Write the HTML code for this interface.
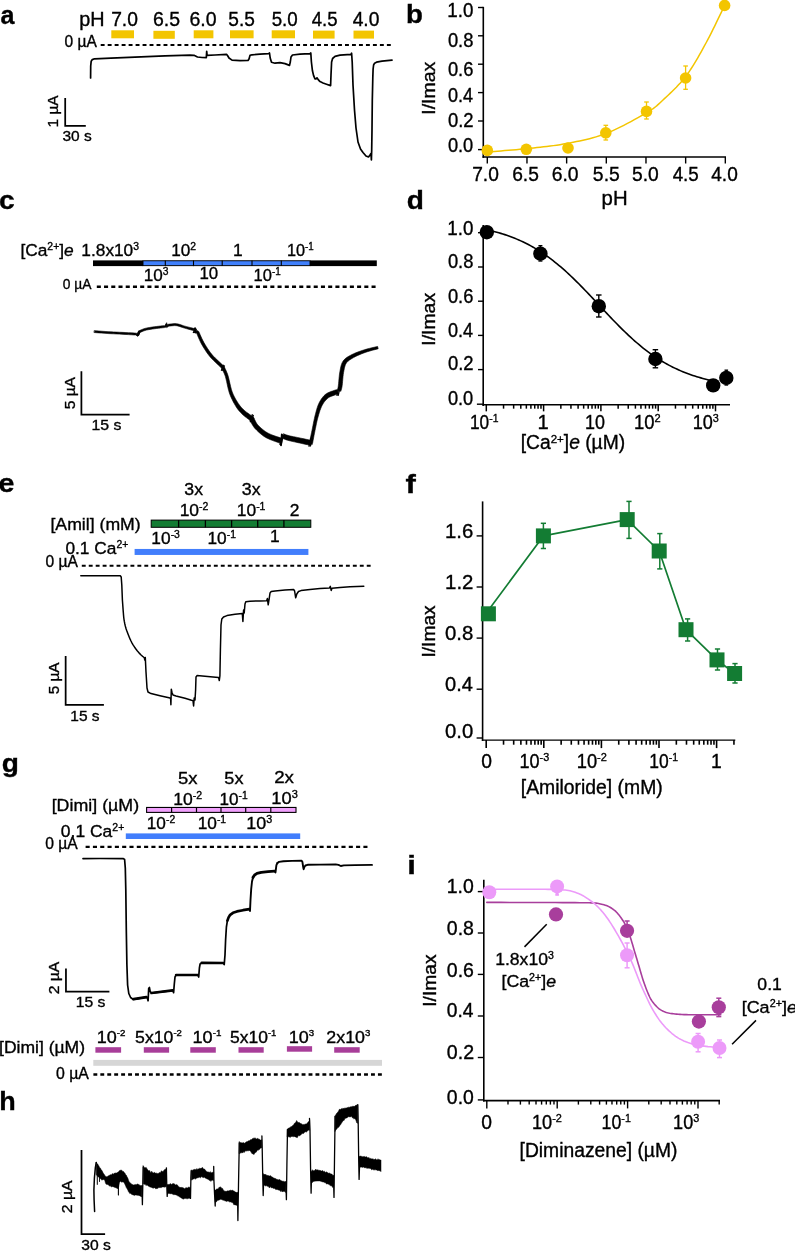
<!DOCTYPE html>
<html lang="en"><head><meta charset="utf-8"><title>Figure</title>
<style>html,body{margin:0;padding:0;background:#fff}svg{display:block;will-change:transform}text{white-space:pre;stroke:#000;stroke-width:0.35px}</style></head>
<body>
<svg width="795" height="1251" viewBox="0 0 795 1251" font-family='"Liberation Sans", sans-serif'>
<rect width="795" height="1251" fill="#fff"/>
<text transform="translate(0.59 23.6) scale(0.947 1)" font-size="26.5" font-weight="bold">a</text>
<text transform="translate(79.34 26.4) scale(1.027 1)" font-size="19.3">pH</text>
<text transform="translate(111.13 26.4) scale(0.999 1)" font-size="19.3">7.0</text>
<text transform="translate(153.02 26.4) scale(1.011 1)" font-size="19.3">6.5</text>
<text transform="translate(189.52 26.4) scale(1.011 1)" font-size="19.3">6.0</text>
<text transform="translate(228.26 26.4) scale(0.99 1)" font-size="19.3">5.5</text>
<text transform="translate(271.67 26.4) scale(0.974 1)" font-size="19.3">5.0</text>
<text transform="translate(311.64 26.4) scale(0.964 1)" font-size="19.3">4.5</text>
<text transform="translate(352.63 26.4) scale(0.999 1)" font-size="19.3">4.0</text>
<rect x="111.3" y="30.3" width="22.7" height="8" fill="#F3C500"/>
<rect x="153.4" y="30.8" width="21.4" height="8" fill="#F3C500"/>
<rect x="193.7" y="30.3" width="19.7" height="8" fill="#F3C500"/>
<rect x="230" y="30.3" width="23.6" height="8" fill="#F3C500"/>
<rect x="271.7" y="30.3" width="23.3" height="8" fill="#F3C500"/>
<rect x="313" y="30.6" width="21.6" height="8" fill="#F3C500"/>
<rect x="353.5" y="30.6" width="20.5" height="8" fill="#F3C500"/>
<text transform="translate(64.5 47.4) scale(0.997 1)" font-size="15.6">0 µA</text>
<line x1="100.7" y1="45" x2="391" y2="45" stroke="#000" stroke-width="1.85" stroke-dasharray="3.91 3.07"/>
<path d="M90.6 78 L90.7 66 L91.2 61.2 L92.3 59.6 L94.5 58.8 L111 58.2 L135 57.2 L165 55.9 L190 55.2 L194 55.3 L197.5 57 L202 57.5 L206.3 57.7 L206.7 51.3 L207.1 55.4 L215 55 L226.5 54.3 L227.5 55.5 L229 58 L232 60.1 L240 60.6 L248 60.5 L249 59 L250 55.4 L252 54.8 L260 54.2 L268.8 53.6 L269.5 53 L270.2 58 L271.5 62.2 L275 63.2 L280 62.6 L285 63.6 L289.5 65.4 L290.3 62 L291 57 L292.5 55 L300 54.2 L310 53.6 L310.8 53 L311.4 62 L312.4 70.5 L313.6 75.6 L315 78.8 L316 79 L317 77.8 L318.2 79.6 L320 81.6 L323 83 L326.5 84.2 L330.6 85.6 L331 75 L331.6 62 L332.6 58.5 L335 56.4 L340 55.2 L351 54.4 L351.6 53.2 L352.2 62 L353 85 L354.5 110 L356 128 L358 142 L360.5 149 L363 152.5 L366 156 L368.5 157 L370 155 L371 153.5 L371.4 160 L371.7 150 L372 130 L372.3 100 L372.8 78 L373.1 69 L373.6 65 L374.6 63.2 L376.5 62.2 L382 61.2 L392 60.2" fill="none" stroke="#000" stroke-width="1.7" stroke-linejoin="round" stroke-linecap="round"/>
<path d="M65.2 98 L65.2 125.9 L85.8 125.9" fill="none" stroke="#000" stroke-width="1.75" stroke-linejoin="miter" stroke-linecap="butt"/>
<text transform="translate(62.38 140.9) scale(1.034 1)" font-size="15">30 s</text>
<text transform="translate(58.2 127.55) rotate(-90) scale(1.022 1)" font-size="15.2">1 µA</text>
<text transform="translate(406.1 22.7) scale(1.044 1)" font-size="26.5" font-weight="bold">b</text>
<line x1="483.3" y1="6.8" x2="483.3" y2="157.8" stroke="#000" stroke-width="1.6"/>
<line x1="482.5" y1="157" x2="726" y2="157" stroke="#000" stroke-width="1.6"/>
<line x1="478" y1="7.5" x2="483" y2="7.5" stroke="#000" stroke-width="1.4"/>
<line x1="478" y1="35.8" x2="483" y2="35.8" stroke="#000" stroke-width="1.4"/>
<line x1="478" y1="64.2" x2="483" y2="64.2" stroke="#000" stroke-width="1.4"/>
<line x1="478" y1="92.6" x2="483" y2="92.6" stroke="#000" stroke-width="1.4"/>
<line x1="478" y1="121" x2="483" y2="121" stroke="#000" stroke-width="1.4"/>
<line x1="478" y1="149.6" x2="483" y2="149.6" stroke="#000" stroke-width="1.4"/>
<text transform="translate(447.27 17.1) scale(0.971 1)" font-size="19.3">1.0</text>
<text transform="translate(447.89 46.5) scale(0.951 1)" font-size="19.3">0.8</text>
<text transform="translate(447.89 75.5) scale(0.951 1)" font-size="19.3">0.6</text>
<text transform="translate(447.9 102) scale(0.937 1)" font-size="19.3">0.4</text>
<text transform="translate(447.88 126.6) scale(0.956 1)" font-size="19.3">0.2</text>
<text transform="translate(447.89 151.6) scale(0.947 1)" font-size="19.3">0.0</text>
<line x1="487.3" y1="157" x2="487.3" y2="163.5" stroke="#000" stroke-width="1.4"/>
<line x1="526.97" y1="157" x2="526.97" y2="163.5" stroke="#000" stroke-width="1.4"/>
<line x1="566.64" y1="157" x2="566.64" y2="163.5" stroke="#000" stroke-width="1.4"/>
<line x1="606.31" y1="157" x2="606.31" y2="163.5" stroke="#000" stroke-width="1.4"/>
<line x1="645.98" y1="157" x2="645.98" y2="163.5" stroke="#000" stroke-width="1.4"/>
<line x1="685.65" y1="157" x2="685.65" y2="163.5" stroke="#000" stroke-width="1.4"/>
<line x1="725.32" y1="157" x2="725.32" y2="163.5" stroke="#000" stroke-width="1.4"/>
<text transform="translate(472.13 181.3) scale(0.995 1)" font-size="19.3">7.0</text>
<text transform="translate(512.13 181.3) scale(0.995 1)" font-size="19.3">6.5</text>
<text transform="translate(551.72 181.3) scale(1.003 1)" font-size="19.3">6.0</text>
<text transform="translate(592.85 181.3) scale(1.006 1)" font-size="19.3">5.5</text>
<text transform="translate(632.05 181.3) scale(0.998 1)" font-size="19.3">5.0</text>
<text transform="translate(672.63 181.3) scale(0.976 1)" font-size="19.3">4.5</text>
<text transform="translate(711.23 181.3) scale(0.991 1)" font-size="19.3">4.0</text>
<text transform="translate(601.61 204.5) scale(1.055 1)" font-size="19.3">pH</text>
<text transform="translate(435 114.76) rotate(-90) scale(1.084 1)" font-size="18">I/Imax</text>
<path d="M487.3 152 L489.22 151.84 L491.62 151.65 L494.44 151.43 L497.6 151.18 L501.03 150.91 L504.68 150.62 L508.46 150.31 L512.3 149.99 L516.15 149.65 L519.93 149.3 L523.57 148.95 L527 148.6 L530.3 148.25 L533.61 147.91 L536.91 147.56 L540.21 147.21 L543.52 146.84 L546.82 146.46 L550.12 146.06 L553.42 145.63 L556.72 145.16 L560.01 144.65 L563.31 144.1 L566.6 143.5 L569.89 142.87 L573.17 142.24 L576.45 141.59 L579.73 140.92 L583 140.21 L586.28 139.46 L589.55 138.66 L592.83 137.79 L596.11 136.85 L599.4 135.83 L602.7 134.72 L606 133.5 L609.39 132.14 L612.9 130.6 L616.5 128.94 L620.14 127.17 L623.79 125.32 L627.4 123.44 L630.93 121.54 L634.35 119.67 L637.6 117.84 L640.66 116.1 L643.47 114.48 L646 113 L648.2 111.69 L650.09 110.53 L651.73 109.48 L653.15 108.52 L654.41 107.61 L655.56 106.72 L656.66 105.82 L657.74 104.87 L658.87 103.85 L660.09 102.72 L661.45 101.44 L663 100 L664.72 98.41 L666.52 96.74 L668.4 94.98 L670.33 93.15 L672.31 91.24 L674.31 89.25 L676.33 87.2 L678.33 85.07 L680.32 82.89 L682.27 80.65 L684.17 78.35 L686 76 L687.78 73.58 L689.52 71.07 L691.24 68.49 L692.94 65.83 L694.62 63.12 L696.27 60.34 L697.92 57.52 L699.55 54.67 L701.17 51.78 L702.78 48.86 L704.39 45.94 L706 43 L707.66 39.91 L709.4 36.58 L711.18 33.06 L712.99 29.44 L714.79 25.8 L716.55 22.19 L718.24 18.69 L719.83 15.39 L721.29 12.34 L722.59 9.63 L723.71 7.33 L724.6 5.5" fill="none" stroke="#F3C500" stroke-width="1.5" stroke-linejoin="round" stroke-linecap="round"/>
<line x1="605.8" y1="125.3" x2="605.8" y2="140" stroke="#F3C500" stroke-width="1.3"/>
<line x1="603.5" y1="125.3" x2="608.1" y2="125.3" stroke="#F3C500" stroke-width="1.3"/>
<line x1="603.5" y1="140" x2="608.1" y2="140" stroke="#F3C500" stroke-width="1.3"/>
<line x1="646.5" y1="102" x2="646.5" y2="119" stroke="#F3C500" stroke-width="1.3"/>
<line x1="644.2" y1="102" x2="648.8" y2="102" stroke="#F3C500" stroke-width="1.3"/>
<line x1="644.2" y1="119" x2="648.8" y2="119" stroke="#F3C500" stroke-width="1.3"/>
<line x1="685.6" y1="66" x2="685.6" y2="89.3" stroke="#F3C500" stroke-width="1.3"/>
<line x1="683.3" y1="66" x2="687.9" y2="66" stroke="#F3C500" stroke-width="1.3"/>
<line x1="683.3" y1="89.3" x2="687.9" y2="89.3" stroke="#F3C500" stroke-width="1.3"/>
<circle cx="487.3" cy="150.4" r="5.8" fill="#F3C500"/>
<circle cx="526.3" cy="149.3" r="5.8" fill="#F3C500"/>
<circle cx="568" cy="148" r="5.8" fill="#F3C500"/>
<circle cx="605.8" cy="132.8" r="5.8" fill="#F3C500"/>
<circle cx="646.5" cy="111.4" r="5.8" fill="#F3C500"/>
<circle cx="685.6" cy="78" r="5.8" fill="#F3C500"/>
<circle cx="724.6" cy="5.5" r="5.8" fill="#F3C500"/>
<text transform="translate(-1.06 208.6) scale(1.062 1)" font-size="26.5" font-weight="bold">c</text>
<text transform="translate(20.38 255.6) scale(0.997 1)" font-size="17.4">[Ca<tspan dy="-6" font-size="10.44">2+</tspan><tspan dy="6">]</tspan><tspan font-style="italic">e</tspan></text>
<text transform="translate(81.36 255.6) scale(0.994 1)" font-size="17.4">1.8x10<tspan dy="-6" font-size="10.44">3</tspan></text>
<text transform="translate(171.16 255.6) scale(0.989 1)" font-size="17.4">10<tspan dy="-6" font-size="10.44">2</tspan></text>
<text transform="translate(232.95 255.6)" font-size="17.4">1</text>
<text transform="translate(287.03 255.6) scale(0.935 1)" font-size="17.4">10<tspan dy="-6" font-size="10.44">-1</tspan></text>
<text transform="translate(143.77 280.7) scale(0.984 1)" font-size="17.4">10<tspan dy="-6" font-size="10.44">3</tspan></text>
<text transform="translate(199.39 279.4) scale(0.967 1)" font-size="17.4">10</text>
<text transform="translate(253.61 280.7) scale(0.95 1)" font-size="17.4">10<tspan dy="-6" font-size="10.44">-1</tspan></text>
<rect x="93" y="260.4" width="50" height="5.7" fill="#000"/>
<rect x="310" y="260.4" width="66.8" height="5.7" fill="#000"/>
<rect x="143" y="260.75" width="167" height="4.9" fill="#4080FC" stroke="#000" stroke-width="0.95"/>
<line x1="165.3" y1="260.4" x2="165.3" y2="266.1" stroke="#000" stroke-width="1.1"/>
<line x1="193.5" y1="260.4" x2="193.5" y2="266.1" stroke="#000" stroke-width="1.1"/>
<line x1="222.2" y1="260.4" x2="222.2" y2="266.1" stroke="#000" stroke-width="1.1"/>
<line x1="252" y1="260.4" x2="252" y2="266.1" stroke="#000" stroke-width="1.1"/>
<line x1="281.3" y1="260.4" x2="281.3" y2="266.1" stroke="#000" stroke-width="1.1"/>
<text transform="translate(62.83 288.7) scale(0.947 1)" font-size="14.6">0 µA</text>
<line x1="96.8" y1="286.65" x2="376.2" y2="286.65" stroke="#000" stroke-width="2.5" stroke-dasharray="4.05 3.18"/>
<path d="M94.33 332.55 L96.17 332.69 L98.77 332.89 L101.81 333.12 L104.97 333.35 L107.94 333.55 L110.72 333.71 L113.51 333.84 L116.32 333.97 L119.13 334.1 L121.95 334.25 L125.02 334.42 L128.33 334.62 L131.54 334.81 L134.29 334.98 L135.81 334.97 L137.83 336.38 L140.17 332.24 L141.35 331.94 L141.38 331.93 L142.03 331.66 L142.89 331.29 L143.93 330.87 L145.14 330.45 L146.53 330.07 L148.21 329.73 L150.2 329.4 L152.35 329.07 L154.5 328.77 L156.53 328.49 L158.55 328.24 L160.66 328 L162.67 327.79 L164.38 327.62 L166.34 327.05 L166.17 324.17 L166.72 327.64 L169.11 325.45 L168.46 326.19 L169.79 326.08 L171.29 325.89 L173.02 325.71 L174.79 325.62 L176.39 325.69 L177.86 325.97 L179.38 326.4 L180.96 326.94 L182.61 327.52 L184.32 328.06 L186.22 328.6 L188.3 329.18 L190.33 329.74 L192.09 330.22 L194.04 330.51 L193.78 328.78 L195 333.2 L197.29 332.46 L196.48 332.76 L196.92 333.81 L197.59 335.46 L198.42 337.43 L199.36 339.59 L200.39 341.79 L201.47 343.88 L202.62 345.9 L203.86 347.98 L205.19 350.1 L206.59 352.2 L208.06 354.26 L209.58 356.23 L211.28 358.17 L213.17 360.12 L215.1 361.99 L216.93 363.7 L218.53 365.19 L219.75 366.37 L220.58 367.21 L221.11 367.76 L221.43 368.09 L221.6 368.28 L221.73 368.44 L221.69 368.32 L222.25 369.46 L222.6 370.18 L223.08 371.1 L223.64 372.2 L224.24 373.5 L224.86 375.03 L225.46 376.8 L226.03 378.97 L226.62 381.59 L227.23 384.48 L227.88 387.45 L228.59 390.35 L229.38 392.99 L230.28 395.39 L231.24 397.68 L232.27 399.85 L233.31 401.89 L234.36 403.8 L235.38 405.56 L236.38 407.18 L237.39 408.65 L238.4 409.98 L239.42 411.21 L240.46 412.37 L241.55 413.52 L242.77 414.69 L244.1 415.83 L245.43 416.89 L246.68 417.85 L247.76 418.67 L248.61 419.33 L249.24 419.83 L249.72 420.2 L250.07 420.46 L250.32 420.63 L250.49 420.75 L249.94 420.03 L250.6 421.32 L250.97 422.03 L251.4 422.91 L251.96 424.03 L252.67 425.29 L253.52 426.62 L254.53 427.94 L255.71 429.23 L257.04 430.57 L258.48 431.93 L259.97 433.25 L261.42 434.47 L262.8 435.55 L264.09 436.45 L265.34 437.22 L266.54 437.88 L267.71 438.45 L268.85 438.97 L270.03 439.5 L271.33 440.06 L272.74 440.6 L274.12 441.1 L275.42 441.55 L276.55 441.94 L277.43 442.25 L278.07 442.49 L278.54 442.67 L278.85 442.79 L279.08 442.87 L279.27 442.95 L279.45 443.02 L281.35 438.18 L281.2 438.12 L281.02 438.04 L280.76 437.94 L280.39 437.79 L279.88 437.6 L279.17 437.35 L278.21 437.03 L277.04 436.66 L275.76 436.25 L274.44 435.82 L273.16 435.37 L271.97 434.9 L270.85 434.43 L269.77 433.96 L268.75 433.49 L267.74 432.97 L266.7 432.37 L265.6 431.65 L264.35 430.74 L262.95 429.66 L261.52 428.49 L260.13 427.28 L258.88 426.11 L257.87 425.06 L257.09 424.09 L256.42 423.05 L255.84 421.99 L255.34 420.98 L254.91 420.07 L254.6 419.48 L254.06 417.97 L253.19 417.02 L253.01 416.89 L252.81 416.73 L252.5 416.5 L252.05 416.16 L251.39 415.67 L250.46 415 L249.33 414.21 L248.09 413.34 L246.81 412.41 L245.57 411.45 L244.45 410.48 L243.4 409.5 L242.38 408.49 L241.39 407.45 L240.41 406.32 L239.43 405.07 L238.42 403.64 L237.36 402.01 L236.26 400.23 L235.17 398.34 L234.11 396.33 L233.12 394.21 L232.22 392.01 L231.42 389.55 L230.69 386.78 L230.01 383.86 L229.37 380.98 L228.76 378.3 L228.14 376 L227.51 374.08 L226.87 372.41 L226.26 370.99 L225.72 369.81 L225.28 368.88 L224.95 368.14 L224.31 366.88 L223.97 366.44 L223.85 366.3 L223.64 366.06 L223.29 365.68 L222.72 365.1 L221.85 364.23 L220.57 363.01 L218.95 361.52 L217.13 359.84 L215.24 358.03 L213.42 356.18 L211.82 354.37 L210.37 352.53 L208.95 350.57 L207.58 348.54 L206.28 346.49 L205.06 344.47 L203.93 342.52 L202.86 340.54 L201.84 338.44 L200.88 336.35 L200.04 334.42 L199.33 332.78 L198.72 331.44 L196.71 330.34 L196.6 332 L195.42 327.62 L193.16 328.49 L192.64 328.12 L190.88 327.69 L188.83 327.17 L186.75 326.64 L184.88 326.14 L183.23 325.63 L181.61 325.06 L179.98 324.5 L178.32 324.02 L176.61 323.71 L174.78 323.62 L172.87 323.72 L171.07 323.9 L169.55 324.09 L168.74 324.21 L167.69 324.35 L167.68 326.36 L166.63 322.63 L164.66 325.95 L164.18 325.63 L162.46 325.8 L160.44 326.01 L158.31 326.25 L156.27 326.51 L154.23 326.79 L152.06 327.09 L149.88 327.42 L147.85 327.77 L146.07 328.13 L144.56 328.53 L143.23 328.99 L142.12 329.44 L141.25 329.82 L140.62 330.07 L140.65 330.06 L138.63 330.96 L136.57 334.82 L136.79 333.23 L134.41 333 L131.65 332.85 L128.44 332.68 L125.12 332.51 L122.05 332.35 L119.22 332.21 L116.4 332.08 L113.6 331.95 L110.82 331.81 L108.06 331.65 L105.1 331.46 L101.95 331.23 L98.91 331 L96.32 330.79 L94.47 330.65 Z" fill="#000" stroke="#000" stroke-width="0.6" stroke-linejoin="round" stroke-linecap="round"/>
<path d="M281.97 438.15 L282.51 438.36 L283.22 438.67 L284.14 439.05 L285.21 439.47 L286.43 439.9 L287.77 440.32 L289.24 440.7 L290.84 441.09 L292.55 441.48 L294.32 441.87 L296.1 442.25 L297.87 442.64 L299.77 443.06 L301.86 443.52 L303.97 443.99 L305.97 444.42 L307.69 444.78 L308.98 445.05 L309.77 445.19 L310.2 445.24 L311.21 445.2 L311.39 440.58 L311.36 440.61 L312.18 444.47 L309.02 441.13 L309.83 445 L309.98 445.08 L310.27 440.5 L311.09 440.44 L310.78 440.34 L310.02 440.15 L308.74 439.87 L307.03 439.49 L305.04 439.06 L302.92 438.61 L300.83 438.16 L298.93 437.76 L297.13 437.38 L295.33 437.02 L293.57 436.67 L291.89 436.33 L290.36 436 L289.03 435.68 L287.86 435.36 L286.79 435.02 L285.81 434.67 L284.95 434.35 L284.21 434.07 L283.63 433.85 Z" fill="#000" stroke="#000" stroke-width="0.6" stroke-linejoin="round" stroke-linecap="round"/>
<path d="M280.4 440.6 L281 445.4 L281.8 434.4 L282.8 436" fill="none" stroke="#000" stroke-width="1.8" stroke-linejoin="round" stroke-linecap="round"/>
<path d="M312.57 443.31 L312.82 441.97 L313.17 440.12 L313.58 437.93 L314.03 435.54 L314.5 433.11 L314.97 430.8 L315.43 428.53 L315.91 426.17 L316.4 423.78 L316.92 421.41 L317.46 419.1 L318.05 416.9 L318.66 414.76 L319.3 412.64 L319.96 410.6 L320.66 408.67 L321.41 406.87 L322.2 405.24 L323.07 403.74 L323.99 402.34 L324.95 401.06 L325.95 399.9 L326.97 398.88 L327.97 398.02 L329.03 397.32 L330.26 396.71 L331.61 396.17 L332.97 395.69 L334.28 395.26 L335.39 394.86 L336.2 394.55 L336.77 394.36 L337.21 394.22 L337.58 394.12 L337.95 394.03 L338.29 393.95 L337.31 389.65 L337.06 389.7 L336.72 389.74 L336.19 389.83 L335.51 389.98 L334.7 390.22 L333.81 390.54 L332.76 390.92 L331.46 391.37 L329.96 391.93 L328.35 392.62 L326.73 393.5 L325.23 394.58 L323.93 395.8 L322.75 397.13 L321.65 398.58 L320.63 400.14 L319.68 401.8 L318.8 403.56 L317.99 405.45 L317.29 407.47 L316.65 409.56 L316.06 411.71 L315.5 413.9 L314.95 416.1 L314.41 418.38 L313.9 420.75 L313.41 423.17 L312.94 425.58 L312.49 427.94 L312.03 430.2 L311.55 432.51 L311.04 434.94 L310.55 437.32 L310.09 439.51 L309.71 441.35 L309.43 442.69 Z" fill="#000" stroke="#000" stroke-width="0.6" stroke-linejoin="round" stroke-linecap="round"/>
<path d="M340.95 391.02 L341.07 390.56 L341.25 389.97 L341.46 389.19 L341.7 388.22 L341.95 387.01 L342.18 385.54 L342.39 383.72 L342.59 381.56 L342.78 379.22 L343 376.83 L343.25 374.55 L343.57 372.52 L343.92 370.64 L344.26 368.84 L344.64 367.18 L345.08 365.68 L345.61 364.34 L346.27 363.17 L347.08 362.12 L348.04 361.17 L349.17 360.27 L350.47 359.4 L351.92 358.51 L353.5 357.6 L355.19 356.68 L357.04 355.77 L359.01 354.88 L361.07 354.02 L363.16 353.2 L365.24 352.43 L367.46 351.69 L369.92 350.97 L372.42 350.28 L374.77 349.66 L376.76 349.15 L378.19 348.76 L377.61 346.44 L376.17 346.78 L374.17 347.24 L371.79 347.8 L369.24 348.42 L366.69 349.09 L364.36 349.77 L362.19 350.47 L360.01 351.22 L357.85 352.01 L355.75 352.84 L353.74 353.7 L351.9 354.6 L350.22 355.48 L348.62 356.35 L347.09 357.29 L345.64 358.35 L344.31 359.58 L343.13 361.03 L342.17 362.68 L341.46 364.43 L340.93 366.23 L340.53 368.08 L340.18 369.95 L339.83 371.88 L339.49 374.05 L339.21 376.44 L338.98 378.88 L338.78 381.24 L338.6 383.35 L338.42 385.06 L338.23 386.38 L338.04 387.47 L337.86 388.34 L337.7 389.06 L337.56 389.67 L337.45 390.18 Z" fill="#000" stroke="#000" stroke-width="0.6" stroke-linejoin="round" stroke-linecap="round"/>
<line x1="137" y1="335.7" x2="139.24" y2="330.7" stroke="#000" stroke-width="1.3"/>
<line x1="138.28" y1="335.7" x2="140.2" y2="331.3" stroke="#000" stroke-width="1.3"/>
<line x1="193.2" y1="333.1" x2="195.44" y2="328.1" stroke="#000" stroke-width="1.3"/>
<line x1="194.48" y1="333.1" x2="196.4" y2="328.7" stroke="#000" stroke-width="1.3"/>
<line x1="221.3" y1="370.8" x2="223.54" y2="364.8" stroke="#000" stroke-width="1.3"/>
<line x1="222.58" y1="370.8" x2="224.5" y2="365.4" stroke="#000" stroke-width="1.3"/>
<line x1="250.2" y1="422.2" x2="252.44" y2="414.2" stroke="#000" stroke-width="1.3"/>
<line x1="251.48" y1="422.2" x2="253.4" y2="414.8" stroke="#000" stroke-width="1.3"/>
<line x1="279.9" y1="445" x2="282.14" y2="435" stroke="#000" stroke-width="1.3"/>
<line x1="281.18" y1="445" x2="283.1" y2="435.6" stroke="#000" stroke-width="1.3"/>
<line x1="308.8" y1="446.7" x2="311.04" y2="437.7" stroke="#000" stroke-width="1.3"/>
<line x1="310.08" y1="446.7" x2="312" y2="438.3" stroke="#000" stroke-width="1.3"/>
<line x1="336.8" y1="395.9" x2="339.04" y2="386.9" stroke="#000" stroke-width="1.3"/>
<line x1="338.08" y1="395.9" x2="340" y2="387.5" stroke="#000" stroke-width="1.3"/>
<path d="M81.4 371.2 L81.4 414.6 L129.6 414.6" fill="none" stroke="#000" stroke-width="1.75" stroke-linejoin="miter" stroke-linecap="butt"/>
<text transform="translate(91.51 430.3) scale(1.054 1)" font-size="15">15 s</text>
<text transform="translate(75.4 409.34) rotate(-90) scale(1.088 1)" font-size="14.3">5 µA</text>
<text transform="translate(406.74 208.7) scale(1.059 1)" font-size="26.5" font-weight="bold">d</text>
<line x1="483.2" y1="225" x2="483.2" y2="406" stroke="#000" stroke-width="1.6"/>
<line x1="482.4" y1="404.75" x2="730" y2="404.75" stroke="#000" stroke-width="1.45"/>
<line x1="476.9" y1="404.2" x2="483.2" y2="404.2" stroke="#000" stroke-width="1.4"/>
<line x1="478" y1="232.7" x2="483" y2="232.7" stroke="#000" stroke-width="1.4"/>
<line x1="478" y1="267" x2="483" y2="267" stroke="#000" stroke-width="1.4"/>
<line x1="478" y1="301.2" x2="483" y2="301.2" stroke="#000" stroke-width="1.4"/>
<line x1="478" y1="335.4" x2="483" y2="335.4" stroke="#000" stroke-width="1.4"/>
<line x1="478" y1="369.6" x2="483" y2="369.6" stroke="#000" stroke-width="1.4"/>
<text transform="translate(447.27 234.7) scale(0.971 1)" font-size="19.3">1.0</text>
<text transform="translate(447.89 268.2) scale(0.951 1)" font-size="19.3">0.8</text>
<text transform="translate(447.89 303) scale(0.951 1)" font-size="19.3">0.6</text>
<text transform="translate(447.9 337) scale(0.937 1)" font-size="19.3">0.4</text>
<text transform="translate(447.88 370.3) scale(0.956 1)" font-size="19.3">0.2</text>
<text transform="translate(447.89 405) scale(0.947 1)" font-size="19.3">0.0</text>
<line x1="486.3" y1="404.75" x2="486.3" y2="411.35" stroke="#000" stroke-width="1.5"/>
<line x1="503.55" y1="404.75" x2="503.55" y2="408.65" stroke="#000" stroke-width="1.5"/>
<line x1="513.64" y1="404.75" x2="513.64" y2="408.65" stroke="#000" stroke-width="1.5"/>
<line x1="520.8" y1="404.75" x2="520.8" y2="408.65" stroke="#000" stroke-width="1.5"/>
<line x1="526.35" y1="404.75" x2="526.35" y2="408.65" stroke="#000" stroke-width="1.5"/>
<line x1="530.89" y1="404.75" x2="530.89" y2="408.65" stroke="#000" stroke-width="1.5"/>
<line x1="534.72" y1="404.75" x2="534.72" y2="408.65" stroke="#000" stroke-width="1.5"/>
<line x1="538.05" y1="404.75" x2="538.05" y2="408.65" stroke="#000" stroke-width="1.5"/>
<line x1="540.98" y1="404.75" x2="540.98" y2="408.65" stroke="#000" stroke-width="1.5"/>
<line x1="543.6" y1="404.75" x2="543.6" y2="411.35" stroke="#000" stroke-width="1.5"/>
<line x1="560.85" y1="404.75" x2="560.85" y2="408.65" stroke="#000" stroke-width="1.5"/>
<line x1="570.94" y1="404.75" x2="570.94" y2="408.65" stroke="#000" stroke-width="1.5"/>
<line x1="578.1" y1="404.75" x2="578.1" y2="408.65" stroke="#000" stroke-width="1.5"/>
<line x1="583.65" y1="404.75" x2="583.65" y2="408.65" stroke="#000" stroke-width="1.5"/>
<line x1="588.19" y1="404.75" x2="588.19" y2="408.65" stroke="#000" stroke-width="1.5"/>
<line x1="592.02" y1="404.75" x2="592.02" y2="408.65" stroke="#000" stroke-width="1.5"/>
<line x1="595.35" y1="404.75" x2="595.35" y2="408.65" stroke="#000" stroke-width="1.5"/>
<line x1="598.28" y1="404.75" x2="598.28" y2="408.65" stroke="#000" stroke-width="1.5"/>
<line x1="600.9" y1="404.75" x2="600.9" y2="411.35" stroke="#000" stroke-width="1.5"/>
<line x1="618.15" y1="404.75" x2="618.15" y2="408.65" stroke="#000" stroke-width="1.5"/>
<line x1="628.24" y1="404.75" x2="628.24" y2="408.65" stroke="#000" stroke-width="1.5"/>
<line x1="635.4" y1="404.75" x2="635.4" y2="408.65" stroke="#000" stroke-width="1.5"/>
<line x1="640.95" y1="404.75" x2="640.95" y2="408.65" stroke="#000" stroke-width="1.5"/>
<line x1="645.49" y1="404.75" x2="645.49" y2="408.65" stroke="#000" stroke-width="1.5"/>
<line x1="649.32" y1="404.75" x2="649.32" y2="408.65" stroke="#000" stroke-width="1.5"/>
<line x1="652.65" y1="404.75" x2="652.65" y2="408.65" stroke="#000" stroke-width="1.5"/>
<line x1="655.58" y1="404.75" x2="655.58" y2="408.65" stroke="#000" stroke-width="1.5"/>
<line x1="658.2" y1="404.75" x2="658.2" y2="411.35" stroke="#000" stroke-width="1.5"/>
<line x1="675.45" y1="404.75" x2="675.45" y2="408.65" stroke="#000" stroke-width="1.5"/>
<line x1="685.54" y1="404.75" x2="685.54" y2="408.65" stroke="#000" stroke-width="1.5"/>
<line x1="692.7" y1="404.75" x2="692.7" y2="408.65" stroke="#000" stroke-width="1.5"/>
<line x1="698.25" y1="404.75" x2="698.25" y2="408.65" stroke="#000" stroke-width="1.5"/>
<line x1="702.79" y1="404.75" x2="702.79" y2="408.65" stroke="#000" stroke-width="1.5"/>
<line x1="706.62" y1="404.75" x2="706.62" y2="408.65" stroke="#000" stroke-width="1.5"/>
<line x1="709.95" y1="404.75" x2="709.95" y2="408.65" stroke="#000" stroke-width="1.5"/>
<line x1="712.88" y1="404.75" x2="712.88" y2="408.65" stroke="#000" stroke-width="1.5"/>
<line x1="715.5" y1="404.75" x2="715.5" y2="411.35" stroke="#000" stroke-width="1.5"/>
<text transform="translate(469.97 428.9) scale(0.896 1)" font-size="19.3">10<tspan dy="-6.66" font-size="11.58">-1</tspan></text>
<text transform="translate(543.2 428.9) scale(1.045 1)" font-size="19.3" text-anchor="middle">1</text>
<text transform="translate(584.92 428.9) scale(0.929 1)" font-size="19.3">10</text>
<text transform="translate(633.98 428.9) scale(0.956 1)" font-size="19.3">10<tspan dy="-6.66" font-size="11.58">2</tspan></text>
<text transform="translate(692.71 428.9) scale(0.937 1)" font-size="19.3">10<tspan dy="-6.66" font-size="11.58">3</tspan></text>
<text transform="translate(520.76 449.4) scale(0.996 1)" font-size="19.3">[Ca<tspan dy="-6.66" font-size="11.58">2+</tspan><tspan dy="6.66">]</tspan><tspan font-style="italic">e</tspan> (µM)</text>
<text transform="translate(435 345.75) rotate(-90) scale(1.079 1)" font-size="18">I/Imax</text>
<path d="M486.8 229.71 L488.8 230.16 L490.8 230.64 L492.8 231.14 L494.8 231.66 L496.8 232.2 L498.8 232.77 L500.8 233.36 L502.8 233.98 L504.8 234.63 L506.8 235.31 L508.8 236.01 L510.8 236.74 L512.8 237.51 L514.8 238.3 L516.8 239.13 L518.8 239.99 L520.8 240.89 L522.8 241.82 L524.8 242.78 L526.8 243.78 L528.8 244.83 L530.8 245.9 L532.8 247.02 L534.8 248.18 L536.8 249.38 L538.8 250.61 L540.8 251.89 L542.8 253.21 L544.8 254.57 L546.8 255.98 L548.8 257.42 L550.8 258.91 L552.8 260.44 L554.8 262.01 L556.8 263.62 L558.8 265.27 L560.8 266.96 L562.8 268.69 L564.8 270.46 L566.8 272.27 L568.8 274.11 L570.8 275.99 L572.8 277.9 L574.8 279.84 L576.8 281.81 L578.8 283.8 L580.8 285.83 L582.8 287.87 L584.8 289.94 L586.8 292.03 L588.8 294.13 L590.8 296.25 L592.8 298.38 L594.8 300.51 L596.8 302.66 L598.8 304.8 L600.8 306.95 L602.8 309.09 L604.8 311.23 L606.8 313.36 L608.8 315.49 L610.8 317.59 L612.8 319.68 L614.8 321.76 L616.8 323.81 L618.8 325.84 L620.8 327.85 L622.8 329.83 L624.8 331.78 L626.8 333.69 L628.8 335.58 L630.8 337.43 L632.8 339.25 L634.8 341.03 L636.8 342.77 L638.8 344.47 L640.8 346.14 L642.8 347.76 L644.8 349.34 L646.8 350.88 L648.8 352.38 L650.8 353.84 L652.8 355.26 L654.8 356.63 L656.8 357.96 L658.8 359.25 L660.8 360.5 L662.8 361.71 L664.8 362.88 L666.8 364.01 L668.8 365.1 L670.8 366.15 L672.8 367.17 L674.8 368.14 L676.8 369.08 L678.8 369.99 L680.8 370.86 L682.8 371.7 L684.8 372.5 L686.8 373.27 L688.8 374.02 L690.8 374.73 L692.8 375.41 L694.8 376.07 L696.8 376.69 L698.8 377.3 L700.8 377.87 L702.8 378.42 L704.8 378.95 L706.8 379.46 L708.8 379.94 L710.8 380.4 L712.8 380.84" fill="none" stroke="#000" stroke-width="1.6" stroke-linejoin="round" stroke-linecap="round"/>
<line x1="598.8" y1="295" x2="598.8" y2="317" stroke="#000" stroke-width="1.4"/>
<line x1="596.05" y1="295" x2="601.55" y2="295" stroke="#000" stroke-width="1.4"/>
<line x1="596.05" y1="317" x2="601.55" y2="317" stroke="#000" stroke-width="1.4"/>
<line x1="540.4" y1="245.7" x2="540.4" y2="261" stroke="#000" stroke-width="1.4"/>
<line x1="538.4" y1="245.7" x2="542.4" y2="245.7" stroke="#000" stroke-width="1.4"/>
<line x1="538.4" y1="261" x2="542.4" y2="261" stroke="#000" stroke-width="1.4"/>
<line x1="726.3" y1="370.2" x2="726.3" y2="385" stroke="#000" stroke-width="1.4"/>
<line x1="724.5" y1="370.2" x2="728.1" y2="370.2" stroke="#000" stroke-width="1.4"/>
<line x1="724.5" y1="385" x2="728.1" y2="385" stroke="#000" stroke-width="1.4"/>
<line x1="655.4" y1="349.7" x2="655.4" y2="367.8" stroke="#000" stroke-width="1.4"/>
<line x1="652.65" y1="349.7" x2="658.15" y2="349.7" stroke="#000" stroke-width="1.4"/>
<line x1="652.65" y1="367.8" x2="658.15" y2="367.8" stroke="#000" stroke-width="1.4"/>
<circle cx="486.8" cy="232.2" r="7.2" fill="#000"/>
<circle cx="540.4" cy="253.6" r="7.2" fill="#000"/>
<circle cx="598.8" cy="306.2" r="7.2" fill="#000"/>
<circle cx="655.4" cy="359" r="7.2" fill="#000"/>
<circle cx="713.2" cy="385.4" r="7.2" fill="#000"/>
<circle cx="726.3" cy="377.9" r="7.2" fill="#000"/>
<text transform="translate(-1.38 492.3) scale(1.08 1)" font-size="26.5" font-weight="bold">e</text>
<text transform="translate(50.46 529.7) scale(1.016 1)" font-size="17.4">[Amil] (mM)</text>
<text transform="translate(184.36 495.2) scale(1.017 1)" font-size="17.4">3x</text>
<text transform="translate(241.76 495.2) scale(1.023 1)" font-size="17.4">3x</text>
<text transform="translate(179.64 516.2) scale(1.005 1)" font-size="17.4">10<tspan dy="-6" font-size="10.44">-2</tspan></text>
<text transform="translate(236.75 516.2) scale(1.002 1)" font-size="17.4">10<tspan dy="-6" font-size="10.44">-1</tspan></text>
<text transform="translate(289.85 516.2)" font-size="17.4">2</text>
<text transform="translate(151.35 543.5) scale(0.997 1)" font-size="17.4">10<tspan dy="-6" font-size="10.44">-3</tspan></text>
<text transform="translate(207.46 543.5) scale(0.994 1)" font-size="17.4">10<tspan dy="-6" font-size="10.44">-1</tspan></text>
<text transform="translate(269.95 542.3)" font-size="17.4">1</text>
<text transform="translate(65.38 553.5) scale(0.996 1)" font-size="17.4">0.1 Ca<tspan dy="-6" font-size="10.44">2+</tspan></text>
<rect x="151.2" y="520.1" width="159.6" height="7.2" fill="#137C33" stroke="#000" stroke-width="1"/>
<line x1="178.6" y1="520.1" x2="178.6" y2="527.3" stroke="#000" stroke-width="1.3"/>
<line x1="205.4" y1="520.1" x2="205.4" y2="527.3" stroke="#000" stroke-width="1.3"/>
<line x1="231.6" y1="520.1" x2="231.6" y2="527.3" stroke="#000" stroke-width="1.3"/>
<line x1="257.7" y1="520.1" x2="257.7" y2="527.3" stroke="#000" stroke-width="1.3"/>
<line x1="283.9" y1="520.1" x2="283.9" y2="527.3" stroke="#000" stroke-width="1.3"/>
<rect x="134.6" y="548.95" width="173.8" height="6" fill="#427EFC"/>
<text transform="translate(45.5 567)" font-size="15.6">0 µA</text>
<line x1="81.8" y1="565.7" x2="370.8" y2="565.7" stroke="#000" stroke-width="2.15" stroke-dasharray="3.89 3.06"/>
<path d="M80.8 575.8 L100 575.7 L120.3 575.8 L121.2 577 L121.8 585 L122.4 600 L123.2 611 L123.2 611 L123.33 612.55 L123.5 614.78 L123.72 617.25 L124 619.5 L124.33 621.47 L124.71 623.38 L125.14 625.22 L125.6 627 L126.08 628.67 L126.6 630.25 L127.17 631.83 L127.8 633.5 L128.51 635.32 L129.29 637.23 L130.12 639.15 L131 641 L131.93 642.78 L132.92 644.52 L133.95 646.2 L135 647.8 L136.08 649.31 L137.2 650.75 L138.34 652.11 L139.5 653.4 L140.79 654.69 L142.18 655.95 L143.43 657.04 L144.3 657.8 L144.8 660 L145.3 657.5 L146 672 L147 688 L148 692 L151 693.6 L160 695.8 L169 697.8 L170.6 698.2 L170.9 704.8 L171.3 689.2 L172 692.5 L173 695 L176 696 L185 698.2 L191.5 700.2 L193 700.6 L193.6 706 L194.2 698 L195 700 L195.6 690 L196 677 L197 675.6 L205 676.2 L213 677 L218.6 677.6 L219.3 680.5 L219.9 676 L220.4 650 L221 625 L221.8 619 L223.5 617 L227 615.6 L235 614.3 L242.3 613.4 L242.9 621.5 L243.6 610 L244.2 613 L245 604 L245.8 601.8 L250 601.2 L260 601 L266.6 600.8 L267.4 598.5 L268.2 604.8 L269 600 L270 593 L271.2 591.6 L275 591 L285 590 L293.6 589.4 L294.6 591 L295.7 597.8 L296.8 594 L298.5 591.5 L301 590.6 L310 589.4 L320 588.6 L329.5 588 L330.3 586.4 L331.2 590.4 L332 588.2 L340 587.4 L350 586.8 L363.8 586.2" fill="none" stroke="#000" stroke-width="1.5" stroke-linejoin="round" stroke-linecap="round"/>
<path d="M65.65 656 L65.65 704.8 L103.9 704.8" fill="none" stroke="#000" stroke-width="1.75" stroke-linejoin="miter" stroke-linecap="butt"/>
<text transform="translate(70.34 720.8) scale(1.032 1)" font-size="15">15 s</text>
<text transform="translate(59 694.3) rotate(-90) scale(0.994 1)" font-size="15.4">5 µA</text>
<text transform="translate(405.56 492.7) scale(1.171 1)" font-size="26.5" font-weight="bold">f</text>
<line x1="482.6" y1="501.4" x2="482.6" y2="740.9" stroke="#000" stroke-width="1.6"/>
<line x1="481.8" y1="740.1" x2="735.3" y2="740.1" stroke="#000" stroke-width="1.45"/>
<line x1="476.6" y1="738" x2="482.6" y2="738" stroke="#000" stroke-width="1.4"/>
<line x1="476.6" y1="535.9" x2="482.5" y2="535.9" stroke="#000" stroke-width="1.4"/>
<line x1="476.6" y1="587" x2="482.5" y2="587" stroke="#000" stroke-width="1.4"/>
<line x1="476.6" y1="638.1" x2="482.5" y2="638.1" stroke="#000" stroke-width="1.4"/>
<line x1="476.6" y1="689.2" x2="482.5" y2="689.2" stroke="#000" stroke-width="1.4"/>
<text transform="translate(445.05 537.9) scale(1.053 1)" font-size="19.3">1.6</text>
<text transform="translate(445.04 588.8) scale(1.058 1)" font-size="19.3">1.2</text>
<text transform="translate(445.01 640.3) scale(1.055 1)" font-size="19.3">0.8</text>
<text transform="translate(445.02 691) scale(1.039 1)" font-size="19.3">0.4</text>
<text transform="translate(445.01 737.5) scale(1.05 1)" font-size="19.3">0.0</text>
<line x1="486.2" y1="740.1" x2="486.2" y2="748.1" stroke="#000" stroke-width="1.6"/>
<line x1="503.54" y1="740.1" x2="503.54" y2="744.7" stroke="#000" stroke-width="1.6"/>
<line x1="513.68" y1="740.1" x2="513.68" y2="744.7" stroke="#000" stroke-width="1.6"/>
<line x1="520.88" y1="740.1" x2="520.88" y2="744.7" stroke="#000" stroke-width="1.6"/>
<line x1="526.46" y1="740.1" x2="526.46" y2="744.7" stroke="#000" stroke-width="1.6"/>
<line x1="531.02" y1="740.1" x2="531.02" y2="744.7" stroke="#000" stroke-width="1.6"/>
<line x1="534.88" y1="740.1" x2="534.88" y2="744.7" stroke="#000" stroke-width="1.6"/>
<line x1="538.22" y1="740.1" x2="538.22" y2="744.7" stroke="#000" stroke-width="1.6"/>
<line x1="541.16" y1="740.1" x2="541.16" y2="744.7" stroke="#000" stroke-width="1.6"/>
<line x1="543.8" y1="740.1" x2="543.8" y2="748.1" stroke="#000" stroke-width="1.6"/>
<line x1="561.14" y1="740.1" x2="561.14" y2="744.7" stroke="#000" stroke-width="1.6"/>
<line x1="571.28" y1="740.1" x2="571.28" y2="744.7" stroke="#000" stroke-width="1.6"/>
<line x1="578.48" y1="740.1" x2="578.48" y2="744.7" stroke="#000" stroke-width="1.6"/>
<line x1="584.06" y1="740.1" x2="584.06" y2="744.7" stroke="#000" stroke-width="1.6"/>
<line x1="588.62" y1="740.1" x2="588.62" y2="744.7" stroke="#000" stroke-width="1.6"/>
<line x1="592.48" y1="740.1" x2="592.48" y2="744.7" stroke="#000" stroke-width="1.6"/>
<line x1="595.82" y1="740.1" x2="595.82" y2="744.7" stroke="#000" stroke-width="1.6"/>
<line x1="598.76" y1="740.1" x2="598.76" y2="744.7" stroke="#000" stroke-width="1.6"/>
<line x1="601.4" y1="740.1" x2="601.4" y2="748.1" stroke="#000" stroke-width="1.6"/>
<line x1="618.74" y1="740.1" x2="618.74" y2="744.7" stroke="#000" stroke-width="1.6"/>
<line x1="628.88" y1="740.1" x2="628.88" y2="744.7" stroke="#000" stroke-width="1.6"/>
<line x1="636.08" y1="740.1" x2="636.08" y2="744.7" stroke="#000" stroke-width="1.6"/>
<line x1="641.66" y1="740.1" x2="641.66" y2="744.7" stroke="#000" stroke-width="1.6"/>
<line x1="646.22" y1="740.1" x2="646.22" y2="744.7" stroke="#000" stroke-width="1.6"/>
<line x1="650.08" y1="740.1" x2="650.08" y2="744.7" stroke="#000" stroke-width="1.6"/>
<line x1="653.42" y1="740.1" x2="653.42" y2="744.7" stroke="#000" stroke-width="1.6"/>
<line x1="656.36" y1="740.1" x2="656.36" y2="744.7" stroke="#000" stroke-width="1.6"/>
<line x1="659" y1="740.1" x2="659" y2="748.1" stroke="#000" stroke-width="1.6"/>
<line x1="676.34" y1="740.1" x2="676.34" y2="744.7" stroke="#000" stroke-width="1.6"/>
<line x1="686.48" y1="740.1" x2="686.48" y2="744.7" stroke="#000" stroke-width="1.6"/>
<line x1="693.68" y1="740.1" x2="693.68" y2="744.7" stroke="#000" stroke-width="1.6"/>
<line x1="699.26" y1="740.1" x2="699.26" y2="744.7" stroke="#000" stroke-width="1.6"/>
<line x1="703.82" y1="740.1" x2="703.82" y2="744.7" stroke="#000" stroke-width="1.6"/>
<line x1="707.68" y1="740.1" x2="707.68" y2="744.7" stroke="#000" stroke-width="1.6"/>
<line x1="711.02" y1="740.1" x2="711.02" y2="744.7" stroke="#000" stroke-width="1.6"/>
<line x1="713.96" y1="740.1" x2="713.96" y2="744.7" stroke="#000" stroke-width="1.6"/>
<line x1="716.6" y1="740.1" x2="716.6" y2="748.1" stroke="#000" stroke-width="1.6"/>
<line x1="733.94" y1="740.1" x2="733.94" y2="744.7" stroke="#000" stroke-width="1.6"/>
<text transform="translate(481.35 767.7)" font-size="19.3">0</text>
<text transform="translate(519.51 767.7) scale(0.936 1)" font-size="19.3">10<tspan dy="-6.66" font-size="11.58">-3</tspan></text>
<text transform="translate(576.69 767.7) scale(0.95 1)" font-size="19.3">10<tspan dy="-6.66" font-size="11.58">-2</tspan></text>
<text transform="translate(649.25 767.7) scale(0.906 1)" font-size="19.3">10<tspan dy="-6.66" font-size="11.58">-1</tspan></text>
<text transform="translate(710.92 767.7)" font-size="19.3">1</text>
<text transform="translate(520.85 794.3) scale(1.003 1)" font-size="19.3">[Amiloride] (mM)</text>
<text transform="translate(435.2 657.53) rotate(-90) scale(1.065 1)" font-size="18">I/Imax</text>
<path d="M485.8 613.8 L543.4 535.9 L627.2 519.6 L659.2 551 L686 629.7 L717 659.9 L734.6 673.5" fill="none" stroke="#137C33" stroke-width="1.7" stroke-linejoin="round" stroke-linecap="round"/>
<line x1="543.4" y1="523.3" x2="543.4" y2="548.5" stroke="#137C33" stroke-width="1.5"/>
<line x1="540.8" y1="523.3" x2="546" y2="523.3" stroke="#137C33" stroke-width="1.5"/>
<line x1="540.8" y1="548.5" x2="546" y2="548.5" stroke="#137C33" stroke-width="1.5"/>
<line x1="629" y1="501.4" x2="629" y2="538.4" stroke="#137C33" stroke-width="1.5"/>
<line x1="626.4" y1="501.4" x2="631.6" y2="501.4" stroke="#137C33" stroke-width="1.5"/>
<line x1="626.4" y1="538.4" x2="631.6" y2="538.4" stroke="#137C33" stroke-width="1.5"/>
<line x1="659.8" y1="533.6" x2="659.8" y2="568.9" stroke="#137C33" stroke-width="1.5"/>
<line x1="657.2" y1="533.6" x2="662.4" y2="533.6" stroke="#137C33" stroke-width="1.5"/>
<line x1="657.2" y1="568.9" x2="662.4" y2="568.9" stroke="#137C33" stroke-width="1.5"/>
<line x1="687.6" y1="618.9" x2="687.6" y2="641" stroke="#137C33" stroke-width="1.5"/>
<line x1="685" y1="618.9" x2="690.2" y2="618.9" stroke="#137C33" stroke-width="1.5"/>
<line x1="685" y1="641" x2="690.2" y2="641" stroke="#137C33" stroke-width="1.5"/>
<line x1="717.5" y1="649" x2="717.5" y2="670" stroke="#137C33" stroke-width="1.5"/>
<line x1="714.9" y1="649" x2="720.1" y2="649" stroke="#137C33" stroke-width="1.5"/>
<line x1="714.9" y1="670" x2="720.1" y2="670" stroke="#137C33" stroke-width="1.5"/>
<line x1="735" y1="663.6" x2="735" y2="683" stroke="#137C33" stroke-width="1.5"/>
<line x1="732.4" y1="663.6" x2="737.6" y2="663.6" stroke="#137C33" stroke-width="1.5"/>
<line x1="732.4" y1="683" x2="737.6" y2="683" stroke="#137C33" stroke-width="1.5"/>
<rect x="480.9" y="606.3" width="15" height="15" fill="#137C33"/>
<rect x="535.9" y="528.4" width="15" height="15" fill="#137C33"/>
<rect x="619.7" y="512.1" width="15" height="15" fill="#137C33"/>
<rect x="651.7" y="543.5" width="15" height="15" fill="#137C33"/>
<rect x="678.5" y="622.2" width="15" height="15" fill="#137C33"/>
<rect x="709.5" y="652.4" width="15" height="15" fill="#137C33"/>
<rect x="727.1" y="666" width="15" height="15" fill="#137C33"/>
<text transform="translate(1.74 772) scale(1.059 1)" font-size="26.5" font-weight="bold">g</text>
<text transform="translate(51.65 811.2) scale(1.024 1)" font-size="17.4">[Dimi] (µM)</text>
<text transform="translate(177.94 784) scale(1.063 1)" font-size="17.4">5x</text>
<text transform="translate(224.35 784) scale(1.04 1)" font-size="17.4">5x</text>
<text transform="translate(274.19 783.2) scale(1.076 1)" font-size="17.4">2x</text>
<text transform="translate(173.34 804.7) scale(1.009 1)" font-size="17.4">10<tspan dy="-6" font-size="10.44">-2</tspan></text>
<text transform="translate(219.57 804.7) scale(0.983 1)" font-size="17.4">10<tspan dy="-6" font-size="10.44">-1</tspan></text>
<text transform="translate(271.29 803.6) scale(1.052 1)" font-size="17.4">10<tspan dy="-6" font-size="10.44">3</tspan></text>
<text transform="translate(146.76 828.5) scale(0.991 1)" font-size="17.4">10<tspan dy="-6" font-size="10.44">-2</tspan></text>
<text transform="translate(197.66 828.5) scale(0.994 1)" font-size="17.4">10<tspan dy="-6" font-size="10.44">-1</tspan></text>
<text transform="translate(246.21 828.5) scale(1.031 1)" font-size="17.4">10<tspan dy="-6" font-size="10.44">3</tspan></text>
<text transform="translate(60.87 836.6) scale(1.004 1)" font-size="17.4">0.1 Ca<tspan dy="-6" font-size="10.44">2+</tspan></text>
<rect x="146.6" y="807.45" width="149.4" height="4.95" fill="#F0A0FC" stroke="#000" stroke-width="1.1"/>
<line x1="171.6" y1="807.45" x2="171.6" y2="812.4" stroke="#000" stroke-width="1.2"/>
<line x1="196.5" y1="807.45" x2="196.5" y2="812.4" stroke="#000" stroke-width="1.2"/>
<line x1="221" y1="807.45" x2="221" y2="812.4" stroke="#000" stroke-width="1.2"/>
<line x1="245.7" y1="807.45" x2="245.7" y2="812.4" stroke="#000" stroke-width="1.2"/>
<line x1="270.8" y1="807.45" x2="270.8" y2="812.4" stroke="#000" stroke-width="1.2"/>
<rect x="125.8" y="833.4" width="174.4" height="5.6" fill="#427EFC"/>
<text transform="translate(45.3 849) scale(1.003 1)" font-size="15.6">0 µA</text>
<line x1="85.6" y1="846.85" x2="367.5" y2="846.85" stroke="#000" stroke-width="2.1" stroke-dasharray="4.09 3.22"/>
<line x1="133.5" y1="999.2" x2="146.4" y2="997.2" stroke="#000" stroke-width="2.7" stroke-linecap="round"/>
<line x1="151.5" y1="993" x2="172.8" y2="990.4" stroke="#000" stroke-width="2.7" stroke-linecap="round"/>
<line x1="176.2" y1="975" x2="197.8" y2="975" stroke="#000" stroke-width="2.7" stroke-linecap="round"/>
<line x1="201.8" y1="962.9" x2="223.2" y2="963" stroke="#000" stroke-width="2.7" stroke-linecap="round"/>
<path d="M227.4 920.6 L228.6 917.4 L230.2 914.8 L233 912.8 L237 911.4 L243 910.2 L249.4 909.2" fill="none" stroke="#000" stroke-width="2.7" stroke-linejoin="round" stroke-linecap="round"/>
<path d="M249.4 909.2 L250 911 L250.5 900 L251.2 889 L252 881.5 L253 877.4" fill="none" stroke="#000" stroke-width="1.9" stroke-linejoin="round" stroke-linecap="round"/>
<path d="M253 877.4 L254.6 875 L257 873.4 L261.3 872.3 L268 871.7 L274.6 871.2" fill="none" stroke="#000" stroke-width="2.8" stroke-linejoin="round" stroke-linecap="round"/>
<path d="M274.6 871.2 L275.5 872.4 L276.4 865.1 L277.4 863" fill="none" stroke="#000" stroke-width="1.9" stroke-linejoin="round" stroke-linecap="round"/>
<path d="M277.4 863 L279 861.9 L283.4 861.3 L292 860.9 L301.5 860.7 L302.4 861.8 L303.1 866.5 L303.6 869.2 L304.4 867 L305.4 865.5 L307.6 864.8 L320 864.6 L335.7 864.4 L338.5 864.9 L340.8 866 L343.8 865.4 L355 865.1 L372 864.9" fill="none" stroke="#000" stroke-width="1.9" stroke-linejoin="round" stroke-linecap="round"/>
<path d="M83 858.6 L100 858.5 L123.4 858.6 L124.6 859.5 L125.3 868 L125.8 890 L126.3 930 L126.9 965 L127.6 985 L128.8 993.5 L130.6 997.5 L133 999.3 L137 998.9 L142 997.9 L146.4 997.2 L147.4 998.2 L148.1 1000.8 L148.7 988.4 L149.4 987.4 L150.2 991.6 L151.5 993 L155 992.6 L163 991.6 L170 990.8 L172.8 990.4 L173.6 992.6 L174.3 984 L175 977 L176 975.2 L180 974.9 L190 974.9 L197.8 975 L198.7 977 L199.4 968 L200.1 964 L201.6 963 L210 962.8 L218 962.9 L223.2 963 L224.2 964.6 L225 955 L225.6 940 L226.4 927 L227.4 920.6" fill="none" stroke="#000" stroke-width="1.7" stroke-linejoin="round" stroke-linecap="round"/>
<path d="M65.95 968.6 L65.95 991.5 L109.4 991.5" fill="none" stroke="#000" stroke-width="1.75" stroke-linejoin="miter" stroke-linecap="butt"/>
<text transform="translate(75.72 1007.3) scale(1.047 1)" font-size="15">15 s</text>
<text transform="translate(58.8 994.36) rotate(-90) scale(1.018 1)" font-size="15.4">2 µA</text>
<text transform="translate(-0.78 1109.8) scale(1.017 1)" font-size="26.5" font-weight="bold">h</text>
<text transform="translate(-0.99 1052.8) scale(1.056 1)" font-size="16.6">[Dimi] (µM)</text>
<text transform="translate(96.75 1043.4) scale(1.11 1)" font-size="16.2">10<tspan dy="-7.13" font-size="8.75">-2</tspan></text>
<text transform="translate(135.12 1043.4) scale(1.091 1)" font-size="16.2">5x10<tspan dy="-7.13" font-size="8.75">-2</tspan></text>
<text transform="translate(192.54 1043.4) scale(1.118 1)" font-size="16.2">10<tspan dy="-7.13" font-size="8.75">-1</tspan></text>
<text transform="translate(229.92 1043.4) scale(1.081 1)" font-size="16.2">5x10<tspan dy="-7.13" font-size="8.75">-1</tspan></text>
<text transform="translate(288.65 1043.4) scale(1.11 1)" font-size="16.2">10<tspan dy="-7.13" font-size="8.75">3</tspan></text>
<text transform="translate(326.37 1043.4) scale(1.1 1)" font-size="16.2">2x10<tspan dy="-7.13" font-size="8.75">3</tspan></text>
<rect x="95.4" y="1047.2" width="25.7" height="5.5" fill="#A83E99"/>
<rect x="143.8" y="1047.2" width="25.3" height="5.5" fill="#A83E99"/>
<rect x="190.3" y="1047.2" width="25.5" height="5.5" fill="#A83E99"/>
<rect x="238.5" y="1047.2" width="25.2" height="5.5" fill="#A83E99"/>
<rect x="286.9" y="1046.2" width="25.2" height="5.5" fill="#A83E99"/>
<rect x="334.2" y="1047.2" width="25.5" height="5.5" fill="#A83E99"/>
<rect x="93.3" y="1059.9" width="288.7" height="5.9" fill="#D6D6D6"/>
<text transform="translate(55.99 1078.6) scale(1.016 1)" font-size="15.6">0 µA</text>
<line x1="93.4" y1="1074.45" x2="382" y2="1074.45" stroke="#000" stroke-width="2.6" stroke-dasharray="3.89 3.05"/>
<path d="M81.5 1150.1 L81.5 1234.1 L105.1 1234.1" fill="none" stroke="#000" stroke-width="1.75" stroke-linejoin="miter" stroke-linecap="butt"/>
<text transform="translate(81.18 1250.2) scale(1.045 1)" font-size="15">30 s</text>
<text transform="translate(72 1213.18) rotate(-90) scale(1.039 1)" font-size="15.2">2 µA</text>
<path d="M96.3 1162.41 L97 1163.41 L97.7 1164.11 L98.4 1165.17 L99.1 1166.38 L99.8 1167.82 L100.5 1168.21 L101.2 1169.94 L101.9 1170.37 L102.6 1171.83 L103.3 1173.18 L104 1174.08 L104.7 1175.23 L105.4 1176.09 L106.1 1176.99 L106.8 1176.6 L107.5 1176.39 L108.2 1175.88 L108.9 1175.62 L109.6 1175.22 L110.3 1174.74 L111 1174.74 L111.7 1174.74 L112.4 1173.44 L113.1 1174.28 L113.8 1173.85 L114.5 1173.11 L115.2 1173.33 L115.9 1172.68 L116.6 1173.12 L117.3 1172.56 L118 1172.36 L118.7 1171.59 L119.4 1170.64 L120.1 1170.35 L120.8 1170.17 L121.5 1169.98 L122.2 1171.22 L122.9 1171.21 L123.6 1171.62 L124.3 1172.78 L125 1173.13 L125.7 1174.81 L126.4 1175.32 L127.1 1177.01 L127.8 1178 L128.5 1180.17 L129.2 1182.08 L129.9 1182.4 L130.6 1183.28 L131.3 1183.87 L132 1184.45 L132.7 1184.62 L133.4 1184.88 L134.1 1185.07 L134.8 1184.58 L135.5 1184.45 L136.2 1184.96 L136.9 1184.1 L137.6 1184.01 L138.3 1184.39 L139 1184.45 L139.7 1185.13 L140.4 1185.48 L141.1 1185.71 L141.8 1185.74 L141.8 1185.63 L141.8 1196.96 L141.8 1196.65 L141.1 1196.45 L140.4 1196.27 L139.7 1195.68 L139 1195.72 L138.3 1195.25 L137.6 1195.37 L136.9 1195.3 L136.2 1194.97 L135.5 1194.95 L134.8 1195.19 L134.1 1195.53 L133.4 1194.89 L132.7 1194.68 L132 1194.67 L131.3 1193.98 L130.6 1193.29 L129.9 1193.67 L129.2 1192.6 L128.5 1191.83 L127.8 1189.98 L127.1 1188.73 L126.4 1187.83 L125.7 1185.98 L125 1184.56 L124.3 1183.01 L123.6 1182.04 L122.9 1182.14 L122.2 1181.65 L121.5 1182.29 L120.8 1181.27 L120.1 1181.43 L119.4 1182.77 L118.7 1186.63 L118 1188.88 L117.3 1188.24 L116.6 1188.33 L115.9 1187.53 L115.2 1187.63 L114.5 1187.36 L113.8 1186.74 L113.1 1186.96 L112.4 1186.48 L111.7 1186.83 L111 1186.73 L110.3 1185.84 L109.6 1186.07 L108.9 1185.56 L108.2 1184.81 L107.5 1184.38 L106.8 1184.37 L106.1 1184.26 L105.4 1182.78 L104.7 1180.05 L104 1179.86 L103.3 1179.48 L102.6 1179.66 L101.9 1180.32 L101.2 1179.18 L100.5 1178.86 L99.8 1177.97 L99.1 1177.49 L98.4 1176.92 L97.7 1176.15 L97 1175.49 L96.3 1174.83 Z" fill="#000" stroke="#000" stroke-width="0.5" stroke-linejoin="miter" stroke-linecap="round"/>
<path d="M143.3 1165.84 L144 1167.06 L144.7 1167.64 L145.4 1167.81 L146.1 1167.34 L146.8 1168.42 L147.5 1169.5 L148.2 1170.16 L148.9 1170.93 L149.6 1170.43 L150.3 1172.15 L151 1172.47 L151.7 1171.23 L152.4 1172.32 L153.1 1172.98 L153.8 1172.69 L154.5 1172.37 L155.2 1173.26 L155.9 1172.99 L156.6 1173.13 L157.3 1173.44 L158 1173.45 L158.7 1173.2 L159.4 1172.57 L160.1 1172.69 L160.8 1171.9 L161.5 1170.7 L162.2 1171.44 L162.9 1171.53 L163.6 1170.97 L164.3 1169.74 L165 1169.73 L165.7 1169 L166.4 1168.35 L166.4 1168.24 L166.4 1186.47 L166.4 1186.36 L165.7 1186.91 L165 1186.78 L164.3 1187.23 L163.6 1186.91 L162.9 1187.09 L162.2 1186.99 L161.5 1187.6 L160.8 1187.26 L160.1 1188.07 L159.4 1187.43 L158.7 1187.58 L158 1188.26 L157.3 1188.55 L156.6 1188.49 L155.9 1189.09 L155.2 1187.89 L154.5 1187.67 L153.8 1188.23 L153.1 1187.86 L152.4 1187.91 L151.7 1187.46 L151 1187.16 L150.3 1187.1 L149.6 1186.78 L148.9 1186.4 L148.2 1186.01 L147.5 1185.31 L146.8 1184.85 L146.1 1185.66 L145.4 1184.29 L144.7 1184.41 L144 1183.93 L143.3 1183.73 Z" fill="#000" stroke="#000" stroke-width="0.5" stroke-linejoin="miter" stroke-linecap="round"/>
<path d="M167.8 1184.95 L168.5 1184.45 L169.2 1184.3 L169.9 1184.16 L170.6 1183.54 L171.3 1184.49 L172 1184.24 L172.7 1183.55 L173.4 1183.67 L174.1 1183.6 L174.8 1184.35 L175.5 1185.05 L176.2 1184.69 L176.9 1184.56 L177.6 1185.16 L178.3 1186.37 L179 1186.89 L179.7 1187.2 L180.4 1187.54 L181.1 1187.09 L181.8 1187.87 L182.5 1187.54 L183.2 1187.83 L183.9 1188.27 L184.6 1188.65 L185.3 1188.24 L186 1187.39 L186.7 1187.9 L187.4 1187.89 L188.1 1187.61 L188.8 1186.96 L189.5 1187.26 L190.2 1187.77 L190.5 1187.66 L190.5 1198.5 L190.2 1198.31 L189.5 1198.35 L188.8 1198.3 L188.1 1198.61 L187.4 1198.78 L186.7 1198.75 L186 1198.35 L185.3 1198.57 L184.6 1198.58 L183.9 1198.69 L183.2 1199.15 L182.5 1198.7 L181.8 1198.14 L181.1 1198.09 L180.4 1197.33 L179.7 1197.04 L179 1196.39 L178.3 1196 L177.6 1195.85 L176.9 1195.35 L176.2 1195.01 L175.5 1194.67 L174.8 1194.89 L174.1 1194.16 L173.4 1194.67 L172.7 1194.25 L172 1193.76 L171.3 1193.7 L170.6 1193.98 L169.9 1193.14 L169.2 1193.73 L168.5 1193.59 L167.8 1193.18 Z" fill="#000" stroke="#000" stroke-width="0.5" stroke-linejoin="miter" stroke-linecap="round"/>
<path d="M191.3 1170.09 L192 1170.3 L192.7 1170.16 L193.4 1169.67 L194.1 1169.72 L194.8 1168.92 L195.5 1169.72 L196.2 1169.52 L196.9 1168.5 L197.6 1169.38 L198.3 1168.92 L199 1168.79 L199.7 1168.23 L200.4 1168.52 L201.1 1168.09 L201.8 1168.22 L202.5 1167.34 L203.2 1168.71 L203.9 1169.02 L204.6 1169.05 L205.3 1170.34 L206 1170.67 L206.7 1171.42 L207.4 1171.97 L208.1 1171.84 L208.8 1172.32 L209.5 1172.58 L210.2 1171.58 L210.9 1172.7 L211.6 1172.71 L212.3 1172.12 L213 1173.01 L213.6 1171.98 L213.6 1180.52 L213 1180.24 L212.3 1180.19 L211.6 1180.21 L210.9 1181.38 L210.2 1180.58 L209.5 1180.41 L208.8 1179.77 L208.1 1179.5 L207.4 1179 L206.7 1178.93 L206 1178.12 L205.3 1178.17 L204.6 1177.36 L203.9 1177.3 L203.2 1177.87 L202.5 1177.13 L201.8 1176.46 L201.1 1177.14 L200.4 1177.78 L199.7 1177.21 L199 1177.24 L198.3 1177.69 L197.6 1177.74 L196.9 1178.19 L196.2 1178.07 L195.5 1179.23 L194.8 1178.59 L194.1 1178.86 L193.4 1178.97 L192.7 1179.58 L192 1179.71 L191.3 1180 Z" fill="#000" stroke="#000" stroke-width="0.5" stroke-linejoin="miter" stroke-linecap="round"/>
<path d="M215.6 1190.17 L216.3 1189.22 L217 1188.77 L217.7 1188.98 L218.4 1188.52 L219.1 1187.17 L219.8 1187.28 L220.5 1186.88 L221.2 1187.42 L221.9 1188.54 L222.6 1188.43 L223.3 1190.18 L224 1190.41 L224.7 1191.16 L225.4 1191.32 L226.1 1191.32 L226.8 1191.3 L227.5 1190.81 L228.2 1190.91 L228.9 1190.8 L229.6 1190.55 L230.3 1190.22 L231 1190.23 L231.7 1190.52 L232.4 1190.01 L233.1 1190.83 L233.8 1191.03 L234.5 1191.34 L235.2 1191.99 L235.9 1192.07 L236.6 1192.51 L237.3 1192.25 L237.5 1193.14 L237.5 1205.98 L237.3 1205.92 L236.6 1205.19 L235.9 1204.95 L235.2 1204.98 L234.5 1204.67 L233.8 1204.81 L233.1 1203.34 L232.4 1202.53 L231.7 1202.6 L231 1201.74 L230.3 1201.98 L229.6 1202 L228.9 1201.32 L228.2 1201.22 L227.5 1201.05 L226.8 1201.42 L226.1 1201.31 L225.4 1200.9 L224.7 1200.78 L224 1200.34 L223.3 1200.25 L222.6 1200.07 L221.9 1199.49 L221.2 1199.49 L220.5 1199.28 L219.8 1199.69 L219.1 1199.94 L218.4 1200.32 L217.7 1200.3 L217 1200.98 L216.3 1202.03 L215.6 1201.84 Z" fill="#000" stroke="#000" stroke-width="0.5" stroke-linejoin="miter" stroke-linecap="round"/>
<path d="M239.4 1141.74 L240.1 1142.18 L240.8 1142.76 L241.5 1142.78 L242.2 1142.71 L242.9 1143.01 L243.6 1142.54 L244.3 1143.27 L245 1142.91 L245.7 1142.2 L246.4 1141.74 L247.1 1141.83 L247.8 1141.24 L248.5 1140.84 L249.2 1140.84 L249.9 1140.47 L250.6 1139.61 L251.3 1139.77 L252 1139.11 L252.7 1138.55 L253.4 1138.2 L254.1 1138.44 L254.8 1137.7 L255.5 1138.25 L256.2 1138.89 L256.9 1138.7 L257.6 1138.28 L258.3 1139.18 L259 1138.73 L259.7 1139.59 L260.4 1140.12 L261.1 1140 L261.8 1139.72 L261.8 1139.83 L261.8 1147.33 L261.8 1147.69 L261.1 1147.9 L260.4 1148.12 L259.7 1149.22 L259 1149.5 L258.3 1150.35 L257.6 1149.88 L256.9 1150.88 L256.2 1152.19 L255.5 1152.49 L254.8 1153.11 L254.1 1154.43 L253.4 1154.26 L252.7 1153.73 L252 1153.7 L251.3 1152.58 L250.6 1151.3 L249.9 1150.64 L249.2 1150.38 L248.5 1150.74 L247.8 1150.54 L247.1 1151.24 L246.4 1150.81 L245.7 1150.8 L245 1151.37 L244.3 1152.46 L243.6 1151.44 L242.9 1153.01 L242.2 1152.4 L241.5 1152.77 L240.8 1152.87 L240.1 1153.36 L239.4 1153.58 Z" fill="#000" stroke="#000" stroke-width="0.5" stroke-linejoin="miter" stroke-linecap="round"/>
<path d="M263.8 1173.87 L264.5 1174.62 L265.2 1174.6 L265.9 1174.4 L266.6 1175.18 L267.3 1175.47 L268 1175.32 L268.7 1175.87 L269.4 1176.03 L270.1 1175.8 L270.8 1175.72 L271.5 1176.82 L272.2 1177.12 L272.9 1177.36 L273.6 1177.95 L274.3 1178.25 L275 1178.28 L275.7 1178.64 L276.4 1179.19 L277.1 1179.13 L277.8 1179.81 L278.5 1179.99 L279.2 1179.2 L279.9 1180.07 L280.6 1180.26 L281.3 1180.66 L282 1180.94 L282.7 1181.29 L283.4 1181.25 L284.1 1181.59 L284.8 1181.79 L285.5 1181.62 L285.8 1182.21 L285.8 1192.62 L285.5 1191.94 L284.8 1191.82 L284.1 1191.16 L283.4 1191.44 L282.7 1191.47 L282 1191.89 L281.3 1190.59 L280.6 1191.6 L279.9 1190.21 L279.2 1190.16 L278.5 1190.05 L277.8 1189.73 L277.1 1189.48 L276.4 1189.55 L275.7 1189.61 L275 1188.76 L274.3 1188.36 L273.6 1188.51 L272.9 1188.11 L272.2 1187.67 L271.5 1187.98 L270.8 1187.06 L270.1 1186.76 L269.4 1188.03 L268.7 1186.69 L268 1186.3 L267.3 1186.32 L266.6 1185.86 L265.9 1185.49 L265.2 1186.14 L264.5 1185.06 L263.8 1185.44 Z" fill="#000" stroke="#000" stroke-width="0.5" stroke-linejoin="miter" stroke-linecap="round"/>
<path d="M287.5 1129.23 L288.2 1128.3 L288.9 1128.09 L289.6 1127.81 L290.3 1127.3 L291 1126.4 L291.7 1126.77 L292.4 1125.73 L293.1 1125.33 L293.8 1124.45 L294.5 1123.23 L295.2 1122.72 L295.9 1122.19 L296.6 1120.51 L297.3 1121.58 L298 1122.38 L298.7 1122.54 L299.4 1122.45 L300.1 1123.18 L300.8 1123.62 L301.5 1123.8 L302.2 1124.42 L302.9 1124.38 L303.6 1124.44 L304.3 1124.41 L305 1124.19 L305.7 1123.95 L306.4 1124.08 L307.1 1123.18 L307.8 1122.6 L308.5 1121.6 L309.2 1121.21 L309.6 1120.64 L309.6 1130.4 L309.2 1129.79 L308.5 1130.14 L307.8 1130.78 L307.1 1130.9 L306.4 1132.15 L305.7 1131.73 L305 1132.12 L304.3 1132.5 L303.6 1133.47 L302.9 1133.62 L302.2 1133.53 L301.5 1133.96 L300.8 1134.94 L300.1 1135.19 L299.4 1135.97 L298.7 1135.47 L298 1136.35 L297.3 1137.64 L296.6 1137.47 L295.9 1136.9 L295.2 1137.06 L294.5 1136.5 L293.8 1136.77 L293.1 1136.52 L292.4 1136.55 L291.7 1136.51 L291 1136.4 L290.3 1137.47 L289.6 1137 L288.9 1136.87 L288.2 1136.85 L287.5 1136.96 Z" fill="#000" stroke="#000" stroke-width="0.5" stroke-linejoin="miter" stroke-linecap="round"/>
<path d="M311.6 1171.06 L312.3 1169.69 L313 1170.72 L313.7 1170.7 L314.4 1170.43 L315.1 1170.31 L315.8 1169.07 L316.5 1170.15 L317.2 1169.72 L317.9 1170.07 L318.6 1170.16 L319.3 1170.43 L320 1170.07 L320.7 1170.74 L321.4 1171.08 L322.1 1170.85 L322.8 1170.53 L323.5 1171.69 L324.2 1171.14 L324.9 1171.71 L325.6 1172.41 L326.3 1171.66 L327 1172.36 L327.7 1172.75 L328.4 1173.22 L329.1 1172.94 L329.8 1173.25 L330.5 1173.82 L331.2 1174.02 L331.9 1174.06 L332.6 1175.16 L333.3 1175.32 L333.4 1175.36 L333.4 1186.95 L333.3 1186.97 L332.6 1187.45 L331.9 1186.09 L331.2 1185.67 L330.5 1185.86 L329.8 1185.05 L329.1 1184.48 L328.4 1184.2 L327.7 1183.69 L327 1184.21 L326.3 1183.78 L325.6 1182.72 L324.9 1182.83 L324.2 1182.35 L323.5 1182 L322.8 1181.95 L322.1 1181.73 L321.4 1181.55 L320.7 1181.34 L320 1180.98 L319.3 1180.93 L318.6 1180.95 L317.9 1181.04 L317.2 1180.95 L316.5 1181.08 L315.8 1181 L315.1 1181.16 L314.4 1181.16 L313.7 1181.41 L313 1181.5 L312.3 1182.65 L311.6 1181.86 Z" fill="#000" stroke="#000" stroke-width="0.5" stroke-linejoin="miter" stroke-linecap="round"/>
<path d="M335.1 1115.59 L335.8 1114.99 L336.5 1113.43 L337.2 1112.84 L337.9 1112.08 L338.6 1110.94 L339.3 1109.37 L340 1109.26 L340.7 1109.5 L341.4 1108.53 L342.1 1109.15 L342.8 1108.19 L343.5 1108.46 L344.2 1108.03 L344.9 1108.45 L345.6 1108.01 L346.3 1108 L347 1107.72 L347.7 1107.45 L348.4 1107.19 L349.1 1107.33 L349.8 1107.17 L350.5 1106.8 L351.2 1106.69 L351.9 1106.83 L352.6 1106.13 L353.3 1106.36 L354 1106.23 L354.7 1106.34 L355.4 1105.61 L356.1 1104.88 L356.8 1105.26 L357.5 1104.7 L357.7 1104.54 L357.7 1123.53 L357.5 1122.27 L356.8 1122.98 L356.1 1120.79 L355.4 1119.33 L354.7 1118.29 L354 1119.17 L353.3 1117.73 L352.6 1118.02 L351.9 1117.01 L351.2 1116.03 L350.5 1117 L349.8 1116.92 L349.1 1116.68 L348.4 1116.72 L347.7 1116.96 L347 1118.12 L346.3 1117.9 L345.6 1118.37 L344.9 1118.43 L344.2 1120.34 L343.5 1120.43 L342.8 1121.2 L342.1 1122.27 L341.4 1123.33 L340.7 1124.5 L340 1125.48 L339.3 1126.17 L338.6 1127.33 L337.9 1127.58 L337.2 1128.56 L336.5 1129.2 L335.8 1130.01 L335.1 1131.29 Z" fill="#000" stroke="#000" stroke-width="0.5" stroke-linejoin="miter" stroke-linecap="round"/>
<path d="M359.8 1156.25 L360.5 1156.1 L361.2 1156.16 L361.9 1156.61 L362.6 1156.67 L363.3 1156.62 L364 1156.65 L364.7 1156.51 L365.4 1157.02 L366.1 1156.84 L366.8 1156.77 L367.5 1157.64 L368.2 1157.91 L368.9 1157.36 L369.6 1158.39 L370.3 1158.4 L371 1158.42 L371.7 1158.96 L372.4 1158.95 L373.1 1158.64 L373.8 1159.5 L374.5 1159.51 L375.2 1158.84 L375.9 1159.16 L376.6 1159.79 L377.3 1159.91 L378 1158.73 L378.7 1159.8 L379.4 1159.61 L380.1 1159.94 L380.8 1160.04 L381 1159.93 L381 1171.6 L380.8 1171.56 L380.1 1170.72 L379.4 1170.7 L378.7 1170.56 L378 1170.51 L377.3 1170.62 L376.6 1169.9 L375.9 1170.11 L375.2 1169.6 L374.5 1169.83 L373.8 1170.14 L373.1 1169.3 L372.4 1169.29 L371.7 1169.92 L371 1168.77 L370.3 1168.43 L369.6 1168.37 L368.9 1168.57 L368.2 1167.94 L367.5 1168.17 L366.8 1168.39 L366.1 1167.52 L365.4 1167.74 L364.7 1167.94 L364 1167.15 L363.3 1167.08 L362.6 1167.43 L361.9 1166.9 L361.2 1167.14 L360.5 1167.18 L359.8 1166.79 Z" fill="#000" stroke="#000" stroke-width="0.5" stroke-linejoin="miter" stroke-linecap="round"/>
<path d="M94.6 1211.5 L94.1 1200 L93.9 1190 L94.4 1178 L95.3 1168 L96.3 1162.4" fill="none" stroke="#000" stroke-width="1.5" stroke-linejoin="round" stroke-linecap="round"/>
<path d="M97.2 1165 L97.3 1184.4" fill="none" stroke="#000" stroke-width="1" stroke-linejoin="round" stroke-linecap="round"/>
<path d="M99.4 1170 L99.5 1181.5" fill="none" stroke="#000" stroke-width="0.9" stroke-linejoin="round" stroke-linecap="round"/>
<path d="M118.4 1185 L118.4 1195" fill="none" stroke="#000" stroke-width="1.1" stroke-linejoin="round" stroke-linecap="round"/>
<path d="M141.9 1186 L142.4 1204.7 L143.2 1167" fill="none" stroke="#000" stroke-width="1.3" stroke-linejoin="round" stroke-linecap="round"/>
<path d="M166.4 1167.8 L166.8 1186 L167.2 1196.4 L167.8 1185" fill="none" stroke="#000" stroke-width="1.3" stroke-linejoin="round" stroke-linecap="round"/>
<path d="M190.5 1198.4 L190.9 1177.7 L191.3 1171" fill="none" stroke="#000" stroke-width="1.3" stroke-linejoin="round" stroke-linecap="round"/>
<path d="M213.7 1166.5 L213.9 1180 L214.6 1195 L215.2 1206 L215.6 1190.5" fill="none" stroke="#000" stroke-width="1.3" stroke-linejoin="round" stroke-linecap="round"/>
<path d="M237.5 1193 L237.9 1220.5 L238.5 1185 L239.3 1143" fill="none" stroke="#000" stroke-width="1.3" stroke-linejoin="round" stroke-linecap="round"/>
<path d="M261.9 1136 L262.2 1148 L262.8 1180 L263.2 1195.6 L263.8 1175" fill="none" stroke="#000" stroke-width="1.3" stroke-linejoin="round" stroke-linecap="round"/>
<path d="M285.8 1182 L286.4 1199.7 L286.9 1165 L287.5 1129.5" fill="none" stroke="#000" stroke-width="1.3" stroke-linejoin="round" stroke-linecap="round"/>
<path d="M309.5 1118.5 L310 1130 L310.6 1170 L311.1 1193.2 L311.6 1172" fill="none" stroke="#000" stroke-width="1.3" stroke-linejoin="round" stroke-linecap="round"/>
<path d="M333.4 1176 L334 1197.4 L334.5 1160 L335.1 1116.5" fill="none" stroke="#000" stroke-width="1.3" stroke-linejoin="round" stroke-linecap="round"/>
<path d="M357.8 1104.7 L358.2 1123 L358.7 1160 L359.1 1179.4 L359.8 1157" fill="none" stroke="#000" stroke-width="1.3" stroke-linejoin="round" stroke-linecap="round"/>
<text transform="translate(407.15 873.8) scale(1.173 1)" font-size="26.5" font-weight="bold">i</text>
<line x1="483.8" y1="879.7" x2="483.8" y2="1101.6" stroke="#000" stroke-width="1.6"/>
<line x1="483" y1="1100.6" x2="720" y2="1100.6" stroke="#000" stroke-width="1.6"/>
<line x1="477.8" y1="1099.9" x2="483.8" y2="1099.9" stroke="#000" stroke-width="1.4"/>
<line x1="477.8" y1="891.6" x2="483.8" y2="891.6" stroke="#000" stroke-width="1.4"/>
<line x1="477.8" y1="933" x2="483.8" y2="933" stroke="#000" stroke-width="1.4"/>
<line x1="477.8" y1="974.4" x2="483.8" y2="974.4" stroke="#000" stroke-width="1.4"/>
<line x1="477.8" y1="1016" x2="483.8" y2="1016" stroke="#000" stroke-width="1.4"/>
<line x1="477.8" y1="1057.5" x2="483.8" y2="1057.5" stroke="#000" stroke-width="1.4"/>
<text transform="translate(446.82 892.8) scale(1.007 1)" font-size="19.3">1.0</text>
<text transform="translate(446.84 935) scale(1.011 1)" font-size="19.3">0.8</text>
<text transform="translate(446.84 977) scale(1.011 1)" font-size="19.3">0.6</text>
<text transform="translate(446.85 1017.2) scale(0.996 1)" font-size="19.3">0.4</text>
<text transform="translate(446.84 1059.2) scale(1.016 1)" font-size="19.3">0.2</text>
<text transform="translate(446.85 1103.5) scale(1.006 1)" font-size="19.3">0.0</text>
<line x1="486.8" y1="1100.6" x2="486.8" y2="1108.4" stroke="#000" stroke-width="1.4"/>
<line x1="507.99" y1="1100.6" x2="507.99" y2="1104.6" stroke="#000" stroke-width="1.4"/>
<line x1="520.39" y1="1100.6" x2="520.39" y2="1104.6" stroke="#000" stroke-width="1.4"/>
<line x1="529.19" y1="1100.6" x2="529.19" y2="1104.6" stroke="#000" stroke-width="1.4"/>
<line x1="536.01" y1="1100.6" x2="536.01" y2="1104.6" stroke="#000" stroke-width="1.4"/>
<line x1="541.58" y1="1100.6" x2="541.58" y2="1104.6" stroke="#000" stroke-width="1.4"/>
<line x1="546.29" y1="1100.6" x2="546.29" y2="1104.6" stroke="#000" stroke-width="1.4"/>
<line x1="550.38" y1="1100.6" x2="550.38" y2="1104.6" stroke="#000" stroke-width="1.4"/>
<line x1="553.98" y1="1100.6" x2="553.98" y2="1104.6" stroke="#000" stroke-width="1.4"/>
<line x1="557.2" y1="1100.6" x2="557.2" y2="1108.4" stroke="#000" stroke-width="1.4"/>
<line x1="578.39" y1="1100.6" x2="578.39" y2="1104.6" stroke="#000" stroke-width="1.4"/>
<line x1="590.79" y1="1100.6" x2="590.79" y2="1104.6" stroke="#000" stroke-width="1.4"/>
<line x1="599.59" y1="1100.6" x2="599.59" y2="1104.6" stroke="#000" stroke-width="1.4"/>
<line x1="606.41" y1="1100.6" x2="606.41" y2="1104.6" stroke="#000" stroke-width="1.4"/>
<line x1="611.98" y1="1100.6" x2="611.98" y2="1104.6" stroke="#000" stroke-width="1.4"/>
<line x1="616.69" y1="1100.6" x2="616.69" y2="1104.6" stroke="#000" stroke-width="1.4"/>
<line x1="620.78" y1="1100.6" x2="620.78" y2="1104.6" stroke="#000" stroke-width="1.4"/>
<line x1="624.38" y1="1100.6" x2="624.38" y2="1104.6" stroke="#000" stroke-width="1.4"/>
<line x1="627.6" y1="1100.6" x2="627.6" y2="1108.4" stroke="#000" stroke-width="1.4"/>
<line x1="648.79" y1="1100.6" x2="648.79" y2="1104.6" stroke="#000" stroke-width="1.4"/>
<line x1="661.19" y1="1100.6" x2="661.19" y2="1104.6" stroke="#000" stroke-width="1.4"/>
<line x1="669.99" y1="1100.6" x2="669.99" y2="1104.6" stroke="#000" stroke-width="1.4"/>
<line x1="676.81" y1="1100.6" x2="676.81" y2="1104.6" stroke="#000" stroke-width="1.4"/>
<line x1="682.38" y1="1100.6" x2="682.38" y2="1104.6" stroke="#000" stroke-width="1.4"/>
<line x1="687.09" y1="1100.6" x2="687.09" y2="1104.6" stroke="#000" stroke-width="1.4"/>
<line x1="691.18" y1="1100.6" x2="691.18" y2="1104.6" stroke="#000" stroke-width="1.4"/>
<line x1="694.78" y1="1100.6" x2="694.78" y2="1104.6" stroke="#000" stroke-width="1.4"/>
<line x1="698" y1="1100.6" x2="698" y2="1108.4" stroke="#000" stroke-width="1.4"/>
<line x1="719.19" y1="1100.6" x2="719.19" y2="1104.6" stroke="#000" stroke-width="1.4"/>
<text transform="translate(481.35 1129.1)" font-size="19.3">0</text>
<text transform="translate(531.9 1129.1) scale(0.943 1)" font-size="19.3">10<tspan dy="-6.66" font-size="11.58">-2</tspan></text>
<text transform="translate(601.53 1129.1) scale(0.923 1)" font-size="19.3">10<tspan dy="-6.66" font-size="11.58">-1</tspan></text>
<text transform="translate(673.11 1129.1) scale(0.937 1)" font-size="19.3">10<tspan dy="-6.66" font-size="11.58">3</tspan></text>
<text transform="translate(519.55 1157) scale(1 1)" font-size="19.3">[Diminazene] (µM)</text>
<text transform="translate(435.6 1006.74) rotate(-90) scale(1.069 1)" font-size="18">I/Imax</text>
<path d="M486.8 902.4 L492.74 902.41 L501.08 902.42 L510.9 902.44 L521.27 902.46 L531.28 902.48 L540 902.5 L547.73 902.53 L555.26 902.56 L562.42 902.59 L569.05 902.62 L574.97 902.66 L580 902.7 L583.96 902.73 L586.96 902.76 L589.25 902.79 L591.08 902.83 L592.71 902.9 L594.4 903 L596.02 903.13 L597.33 903.29 L598.45 903.47 L599.47 903.68 L600.48 903.92 L601.6 904.2 L602.8 904.5 L604 904.81 L605.2 905.16 L606.4 905.56 L607.6 906.03 L608.8 906.6 L610.02 907.27 L611.26 908.03 L612.49 908.86 L613.71 909.75 L614.89 910.7 L616 911.7 L617.05 912.77 L618.06 913.91 L619.03 915.12 L619.96 916.35 L620.85 917.59 L621.7 918.8 L622.5 919.94 L623.23 921.03 L623.93 922.12 L624.61 923.27 L625.29 924.54 L626 926 L626.73 927.65 L627.46 929.44 L628.2 931.36 L628.94 933.37 L629.67 935.46 L630.4 937.6 L631.12 939.83 L631.84 942.16 L632.56 944.58 L633.27 947.03 L633.98 949.48 L634.7 951.9 L635.42 954.29 L636.13 956.69 L636.85 959.09 L637.57 961.5 L638.28 963.9 L639 966.3 L639.72 968.73 L640.43 971.21 L641.15 973.68 L641.87 976.11 L642.58 978.47 L643.3 980.7 L644.02 982.82 L644.73 984.85 L645.45 986.81 L646.17 988.68 L646.88 990.48 L647.6 992.2 L648.28 993.82 L648.93 995.34 L649.57 996.77 L650.25 998.16 L651.02 999.53 L651.9 1000.9 L652.93 1002.31 L654.09 1003.75 L655.32 1005.17 L656.59 1006.51 L657.87 1007.74 L659.1 1008.8 L660.3 1009.67 L661.5 1010.4 L662.7 1011.01 L663.9 1011.52 L665.1 1011.98 L666.3 1012.4 L667.46 1012.77 L668.58 1013.05 L669.69 1013.27 L670.86 1013.46 L672.11 1013.63 L673.5 1013.8 L675 1013.98 L676.55 1014.14 L678.2 1014.28 L679.97 1014.41 L681.89 1014.51 L684 1014.6 L686.29 1014.66 L688.75 1014.69 L691.36 1014.7 L694.11 1014.7 L696.99 1014.7 L700 1014.7 L703.43 1014.71 L707.35 1014.71 L711.4 1014.71 L715.23 1014.7 L718.48 1014.7 L720.8 1014.7" fill="none" stroke="#A83E9C" stroke-width="1.6" stroke-linejoin="round" stroke-linecap="round"/>
<path d="M489.3 889.2 L492.71 889.2 L497.47 889.2 L503.09 889.19 L509.05 889.19 L514.86 889.19 L520 889.2 L524.61 889.21 L529.13 889.21 L533.48 889.23 L537.62 889.24 L541.48 889.26 L545 889.3 L548.14 889.34 L550.93 889.39 L553.44 889.44 L555.74 889.5 L557.91 889.59 L560 889.7 L561.96 889.82 L563.7 889.93 L565.31 890.06 L566.85 890.24 L568.39 890.48 L570 890.8 L571.7 891.22 L573.44 891.73 L575.18 892.31 L576.87 892.92 L578.5 893.56 L580 894.2 L581.36 894.84 L582.61 895.5 L583.77 896.18 L584.9 896.89 L586.03 897.63 L587.2 898.4 L588.4 899.2 L589.6 900.01 L590.8 900.86 L592 901.75 L593.2 902.69 L594.4 903.7 L595.6 904.76 L596.8 905.88 L598 907.04 L599.2 908.27 L600.4 909.55 L601.6 910.9 L602.8 912.32 L604 913.79 L605.2 915.33 L606.4 916.93 L607.6 918.59 L608.8 920.3 L610 922.08 L611.2 923.93 L612.4 925.83 L613.6 927.79 L614.8 929.78 L616 931.8 L617.2 933.85 L618.4 935.94 L619.6 938.07 L620.8 940.24 L622 942.45 L623.2 944.7 L624.43 947.06 L625.71 949.55 L626.98 952.08 L628.21 954.56 L629.37 956.93 L630.4 959.1 L631.27 960.98 L632 962.63 L632.64 964.15 L633.27 965.67 L633.94 967.32 L634.7 969.2 L635.57 971.37 L636.49 973.74 L637.46 976.23 L638.44 978.75 L639.43 981.24 L640.4 983.6 L641.36 985.85 L642.33 988.06 L643.3 990.23 L644.27 992.35 L645.24 994.44 L646.2 996.5 L647.14 998.51 L648.05 1000.47 L648.96 1002.39 L649.89 1004.29 L650.86 1006.19 L651.9 1008.1 L653.01 1010.06 L654.19 1012.05 L655.41 1014.04 L656.64 1015.99 L657.88 1017.85 L659.1 1019.6 L660.3 1021.23 L661.5 1022.76 L662.7 1024.21 L663.9 1025.6 L665.1 1026.92 L666.3 1028.2 L667.51 1029.43 L668.73 1030.6 L669.94 1031.72 L671.15 1032.77 L672.34 1033.77 L673.5 1034.7 L674.61 1035.55 L675.66 1036.32 L676.7 1037.03 L677.75 1037.7 L678.84 1038.35 L680 1039 L681.23 1039.65 L682.52 1040.3 L683.84 1040.92 L685.2 1041.51 L686.59 1042.08 L688 1042.6 L689.42 1043.08 L690.85 1043.52 L692.31 1043.92 L693.81 1044.3 L695.37 1044.66 L697 1045 L698.7 1045.32 L700.45 1045.63 L702.26 1045.91 L704.13 1046.16 L706.04 1046.39 L708 1046.6 L710.18 1046.78 L712.61 1046.93 L715.09 1047.05 L717.41 1047.15 L719.39 1047.23 L720.8 1047.3" fill="none" stroke="#EC9AF9" stroke-width="1.6" stroke-linejoin="round" stroke-linecap="round"/>
<line x1="557.1" y1="886.5" x2="557.1" y2="894.6" stroke="#EC9AF9" stroke-width="2.4"/>
<line x1="555.3" y1="886.5" x2="558.9" y2="886.5" stroke="#EC9AF9" stroke-width="2.4"/>
<line x1="555.3" y1="894.6" x2="558.9" y2="894.6" stroke="#EC9AF9" stroke-width="2.4"/>
<line x1="627.1" y1="943" x2="627.1" y2="967.8" stroke="#EC9AF9" stroke-width="1.5"/>
<line x1="624.6" y1="943" x2="629.6" y2="943" stroke="#EC9AF9" stroke-width="1.5"/>
<line x1="624.6" y1="967.8" x2="629.6" y2="967.8" stroke="#EC9AF9" stroke-width="1.5"/>
<line x1="698.1" y1="1033.5" x2="698.1" y2="1051.8" stroke="#EC9AF9" stroke-width="1.5"/>
<line x1="695.6" y1="1033.5" x2="700.6" y2="1033.5" stroke="#EC9AF9" stroke-width="1.5"/>
<line x1="695.6" y1="1051.8" x2="700.6" y2="1051.8" stroke="#EC9AF9" stroke-width="1.5"/>
<line x1="719.5" y1="1040" x2="719.5" y2="1057.6" stroke="#EC9AF9" stroke-width="1.5"/>
<line x1="717" y1="1040" x2="722" y2="1040" stroke="#EC9AF9" stroke-width="1.5"/>
<line x1="717" y1="1057.6" x2="722" y2="1057.6" stroke="#EC9AF9" stroke-width="1.5"/>
<line x1="627.1" y1="921" x2="627.1" y2="931" stroke="#A83E9C" stroke-width="1.5"/>
<line x1="624.6" y1="921" x2="629.6" y2="921" stroke="#A83E9C" stroke-width="1.5"/>
<line x1="624.6" y1="931" x2="629.6" y2="931" stroke="#A83E9C" stroke-width="1.5"/>
<line x1="718.8" y1="998.2" x2="718.8" y2="1016.6" stroke="#A83E9C" stroke-width="1.5"/>
<line x1="716.3" y1="998.2" x2="721.3" y2="998.2" stroke="#A83E9C" stroke-width="1.5"/>
<line x1="716.3" y1="1016.6" x2="721.3" y2="1016.6" stroke="#A83E9C" stroke-width="1.5"/>
<circle cx="556" cy="914.4" r="7.1" fill="#A83E9C"/>
<circle cx="627.05" cy="930.8" r="7.1" fill="#A83E9C"/>
<circle cx="698.9" cy="1021.6" r="7.1" fill="#A83E9C"/>
<circle cx="718.8" cy="1007.3" r="7.1" fill="#A83E9C"/>
<circle cx="489.3" cy="892.3" r="7" fill="#EC9AF9"/>
<circle cx="557.1" cy="886.4" r="7" fill="#EC9AF9"/>
<circle cx="627.05" cy="955.3" r="7" fill="#EC9AF9"/>
<circle cx="698.1" cy="1041.8" r="7" fill="#EC9AF9"/>
<circle cx="719.5" cy="1048" r="7" fill="#EC9AF9"/>
<line x1="546.7" y1="924.3" x2="524.5" y2="946.9" stroke="#000" stroke-width="1.5"/>
<text transform="translate(495.13 965) scale(1.012 1)" font-size="17.4">1.8x10<tspan dy="-6" font-size="10.44">3</tspan></text>
<text transform="translate(501.45 987.2) scale(1.02 1)" font-size="17.4">[Ca<tspan dy="-6" font-size="10.44">2+</tspan><tspan dy="6">]</tspan><tspan font-style="italic">e</tspan></text>
<line x1="756" y1="1020.4" x2="732.1" y2="1044.3" stroke="#000" stroke-width="1.5"/>
<text transform="translate(757.37 989.8) scale(1.011 1)" font-size="17.4">0.1</text>
<text transform="translate(741.64 1013.3) scale(1.034 1)" font-size="17.4">[Ca<tspan dy="-6" font-size="10.44">2+</tspan><tspan dy="6">]</tspan><tspan font-style="italic">e</tspan></text>
</svg>
</body></html>
